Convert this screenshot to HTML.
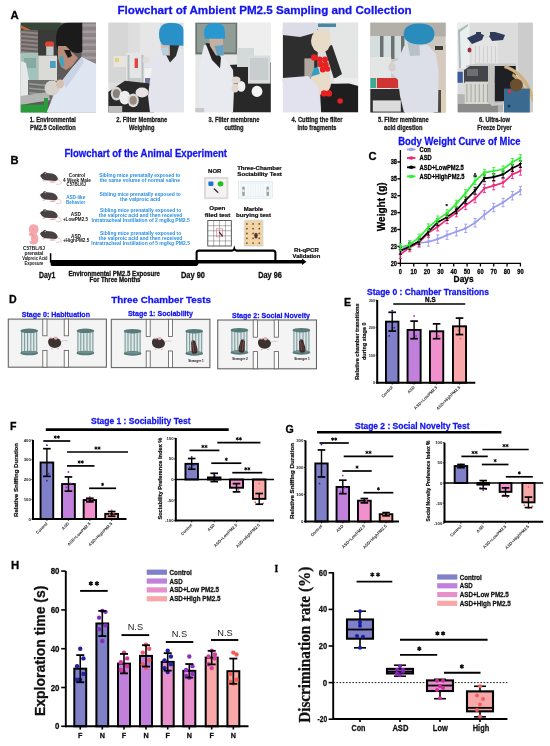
<!DOCTYPE html>
<html><head><meta charset="utf-8"><title>Figure</title>
<style>
html,body{margin:0;padding:0;background:#fff;width:550px;height:746px;overflow:hidden;}
svg{display:block;will-change:transform;}

</style></head><body>
<svg width="550" height="746" viewBox="0 0 550 746">
<rect width="550" height="746" fill="#fff"/>
<text x="10.60" y="18.50" font-size="11.4" fill="#000" font-weight="bold" font-family='"Liberation Sans", sans-serif' stroke="#000" stroke-width="0.280" stroke-linejoin="round" >A</text>
<text x="117.50" y="13.70" font-size="11.63" fill="#1414ee" font-weight="bold" font-family='"Liberation Sans", sans-serif' stroke="#1414ee" stroke-width="0.280" stroke-linejoin="round" >Flowchart of Ambient PM2.5 Sampling and Collection</text>
<defs>
<clipPath id="ph0"><rect x="20.5" y="22.4" width="75.6" height="90.1"/></clipPath>
<clipPath id="ph1"><rect x="108.2" y="22.4" width="75.6" height="90.1"/></clipPath>
<clipPath id="ph2"><rect x="195.2" y="22.4" width="75.6" height="90.1"/></clipPath>
<clipPath id="ph3"><rect x="282.7" y="22.4" width="75.6" height="90.1"/></clipPath>
<clipPath id="ph4"><rect x="370.2" y="22.4" width="75.6" height="90.1"/></clipPath>
<clipPath id="ph5"><rect x="457.3" y="22.4" width="75.6" height="90.1"/></clipPath>
</defs>
<g clip-path="url(#ph0)">
<rect x="20.50" y="22.40" width="75.60" height="90.10" fill="#5c5a58" />
<rect x="20.50" y="22.40" width="40.00" height="9.00" fill="#384638" />
<path d="M20.5 25 L31 30 L31 33 L20.5 28 Z" fill="#b8683c" />
<rect x="20.50" y="30.00" width="24.00" height="24.00" fill="#6a6260" />
<path d="M20.5 31.0 L44 33.0 L44 35.0 L20.5 33.0 Z" fill="#8e8684" />
<path d="M20.5 35.0 L44 37.0 L44 39.0 L20.5 37.0 Z" fill="#8e8684" />
<path d="M20.5 39.0 L44 41.0 L44 43.0 L20.5 41.0 Z" fill="#8e8684" />
<path d="M20.5 43.0 L44 45.0 L44 47.0 L20.5 45.0 Z" fill="#8e8684" />
<path d="M20.5 47.0 L44 49.0 L44 51.0 L20.5 49.0 Z" fill="#8e8684" />
<path d="M20.5 51.0 L44 53.0 L44 55.0 L20.5 53.0 Z" fill="#8e8684" />
<rect x="38.00" y="30.00" width="20.00" height="27.00" fill="#3a3a38" />
<rect x="81.60" y="22.40" width="14.50" height="54.00" fill="#8c8486" />
<rect x="81.60" y="24.00" width="14.50" height="2.60" fill="#a49c9c" />
<rect x="81.60" y="30.50" width="14.50" height="2.60" fill="#a49c9c" />
<rect x="81.60" y="37.00" width="14.50" height="2.60" fill="#a49c9c" />
<rect x="81.60" y="43.50" width="14.50" height="2.60" fill="#a49c9c" />
<rect x="81.60" y="50.00" width="14.50" height="2.60" fill="#a49c9c" />
<rect x="81.60" y="56.50" width="14.50" height="2.60" fill="#a49c9c" />
<rect x="81.60" y="63.00" width="14.50" height="2.60" fill="#a49c9c" />
<rect x="81.60" y="69.50" width="14.50" height="2.60" fill="#a49c9c" />
<rect x="45.20" y="41.60" width="8.80" height="5.60" fill="#dc4430" rx="2"/>
<rect x="46.20" y="46.50" width="7.40" height="9.10" fill="#c2cccc" />
<rect x="20.50" y="52.80" width="17.70" height="31.00" fill="#a2c2ba" />
<rect x="24.00" y="58.00" width="12.00" height="10.00" fill="#86aaa2" />
<rect x="38.20" y="55.60" width="18.80" height="25.20" fill="#dadad6" />
<rect x="50.00" y="61.00" width="5.70" height="7.00" fill="#4aa0c0" />
<path d="M20.5 61 L26 63 L29 80 L28 96 L20.5 96 Z" fill="#e6e8e8" />
<rect x="28.00" y="80.00" width="26.00" height="22.00" fill="#6c6e6c" />
<path d="M29 83.0 L50 85.0 L50 86.5 L29 84.5 Z" fill="#9a9c9a" />
<path d="M29 87.5 L50 89.5 L50 91.0 L29 89.0 Z" fill="#9a9c9a" />
<path d="M29 92.0 L50 94.0 L50 95.5 L29 93.5 Z" fill="#9a9c9a" />
<path d="M29 96.5 L50 98.5 L50 100.0 L29 98.0 Z" fill="#9a9c9a" />
<path d="M20.5 96 L48 92 L50 100 L20.5 105 Z" fill="#b4b4b2" />
<rect x="20.50" y="104.60" width="26.50" height="8.40" fill="#2a9a3a" />
<rect x="44.00" y="98.00" width="4.00" height="15.00" fill="#2a9a3a" />
<path d="M56 40 Q56 22.4 70 22.4 L82.3 22.4 L82.3 52 Q78 54 72 52 Q64 48 60 52 Q56 50 56 40 Z" fill="#1b1b1b" />
<path d="M58 46 L66 46 L72 52 L78 58 L72 66 L66 70 L61 67 L58 58 Z" fill="#b88a78" />
<path d="M64 50 L70 50 L72 56 L68 58 Z" fill="#1b1b1b" />
<path d="M59 57 L63 56 L64.5 66 L61 66.5 Z" fill="#3ea4c4" />
<path d="M81.6 57 L96.1 64 L96.1 112.5 L46.6 112.5 L53.6 94.8 L62 80.8 L71.8 68.2 Z" fill="#dfe6f1" />
<path d="M71.8 68.2 L81.6 57 L84 62 L76 74 L66 88 L62 80.8 Z" fill="#c9d3e4" />
<ellipse cx="52.00" cy="88.00" rx="7.50" ry="7.50" fill="#d8d2cc" />
<ellipse cx="60.00" cy="84.00" rx="4.00" ry="4.50" fill="#d6c0b0" />
</g>
<g clip-path="url(#ph1)">
<rect x="108.20" y="22.40" width="75.60" height="90.10" fill="#dedede" />
<rect x="108.20" y="22.40" width="20.00" height="60.00" fill="#d6d6d6" />
<rect x="140.00" y="22.40" width="20.00" height="40.00" fill="#e6e6e6" />
<rect x="113.60" y="56.00" width="12.40" height="11.00" fill="#e8e6dc" />
<rect x="115.00" y="58.00" width="4.00" height="4.00" fill="#e0d080" />
<rect x="126.00" y="52.80" width="18.40" height="35.00" fill="#e2e6e6" />
<rect x="127.50" y="55.00" width="2.00" height="31.00" fill="#b8bcbc" />
<rect x="141.50" y="55.00" width="2.00" height="31.00" fill="#b8bcbc" />
<rect x="134.60" y="58.40" width="3.40" height="9.60" fill="#e04444" />
<rect x="129.00" y="78.00" width="12.00" height="8.00" fill="#c8c8c8" />
<rect x="144.40" y="68.00" width="13.30" height="14.00" fill="#f2f2f2" />
<rect x="145.00" y="78.00" width="7.80" height="9.80" fill="#7474a2" />
<path d="M108.2 92 L125 80.8 L154 84 L154 112.5 L108.2 112.5 Z" fill="#2a2a2a" />
<ellipse cx="116.40" cy="93.60" rx="5.60" ry="6.80" fill="#d4d4d4" />
<ellipse cx="116.40" cy="93.60" rx="3.60" ry="4.40" fill="#8a8078" />
<ellipse cx="124.80" cy="97.60" rx="5.60" ry="6.80" fill="#eeeeee" />
<ellipse cx="133.20" cy="100.40" rx="5.60" ry="6.80" fill="#dadada" />
<ellipse cx="133.20" cy="100.40" rx="3.60" ry="4.40" fill="#9a8a80" />
<rect x="108.20" y="106.00" width="14.00" height="7.00" fill="#bdbdbd" />
<path d="M161 50 L180 47 L184.3 54 L184.3 112.5 L150 112.5 L148 96 L150 80 L152 68 L144 66 L146 57 L158 55 Z" fill="#e4e4ec" />
<path d="M164 44.4 L179.4 44.4 L176 56 L170 62.6 L166 55 Z" fill="#2e2e2e" />
<ellipse cx="142.00" cy="92.50" rx="6.50" ry="5.00" fill="#e8e2e2" />
<ellipse cx="146.00" cy="60.00" rx="3.50" ry="3.20" fill="#e0dcd8" />
<path d="M160.5 43 L169.6 43 L170 55.6 L163 55.6 Z" fill="#d0b8b0" />
<path d="M161 48 L168 47 L168.5 55 L163 55 Z" fill="#b8d0e0" />
<path d="M159 34 Q159 22.7 171 22.7 Q183 22.7 183.5 30 L183.5 45.8 L163 45 Q159 42 159 34 Z" fill="#2a90c8" />
</g>
<g clip-path="url(#ph2)">
<rect x="195.20" y="22.40" width="75.60" height="90.10" fill="#e6e6e6" />
<rect x="237.00" y="22.40" width="34.00" height="42.00" fill="#eeeeee" />
<rect x="195.20" y="22.40" width="42.00" height="32.00" fill="#6c726c" />
<rect x="197.00" y="23.80" width="38.60" height="28.60" fill="#909c96" />
<rect x="213.00" y="23.80" width="1.20" height="28.60" fill="#7c8680" />
<path d="M228.6 65 L271 62.5 L271 112.5 L232 112.5 Z" fill="#282828" />
<rect x="237.00" y="48.00" width="17.00" height="19.00" fill="#d4dada" />
<rect x="248.00" y="55.60" width="22.60" height="28.00" fill="#d8dcdc" />
<rect x="250.00" y="58.00" width="18.00" height="22.00" fill="#c8cece" />
<ellipse cx="241.20" cy="86.40" rx="4.20" ry="5.40" fill="#f0f0f0" />
<ellipse cx="257.00" cy="91.40" rx="5.40" ry="5.60" fill="#f4f4f4" />
<path d="M204 45 L212 46 L224 56 L233 70 L234 90 L233 112.5 L199 112.5 L198.5 70 Z" fill="#e8eaf0" />
<path d="M205.5 43 L215 44 L221 58 L220 68.2 L212 60 Z" fill="#242424" />
<path d="M209 37.4 L223 37.4 L223.5 55.6 L216 55.6 L210 46 Z" fill="#c8b0a0" />
<path d="M214.5 46 L223.5 45 L223.5 55.6 L217 55 Z" fill="#62a2c8" />
<path d="M204 33 Q204 22.7 214.5 22.7 Q225 22.7 225 32 L225 38.8 L205 38.8 Z" fill="#2a98d0" />
<ellipse cx="236.00" cy="80.00" rx="4.50" ry="3.50" fill="#e2dad2" />
<ellipse cx="235.00" cy="88.00" rx="3.50" ry="4.50" fill="#e0d6cc" />
<rect x="195.20" y="108.00" width="9.00" height="4.50" fill="#c8c8c8" />
</g>
<g clip-path="url(#ph3)">
<rect x="282.70" y="22.40" width="75.60" height="90.10" fill="#dadede" />
<rect x="330.00" y="22.40" width="28.30" height="60.00" fill="#e4e6e6" />
<rect x="318.00" y="23.50" width="18.00" height="3.50" fill="#4a86a4" />
<rect x="282.70" y="29.00" width="35.00" height="53.00" fill="#2e2e2e" />
<path d="M282.7 22.4 L316 22.4 L318 32 L300 37 L282.7 35 Z" fill="#dcdce6" />
<path d="M324 47 L332 45 L342 74 L334 79 Z" fill="#2c2c2c" />
<ellipse cx="321.00" cy="41.00" rx="10.00" ry="11.50" fill="#e8dcc8" />
<rect x="333.80" y="78.00" width="25.00" height="9.80" fill="#ececec" />
<path d="M319.8 84 L349 83.6 L358.3 86 L358.3 112.5 L321 112.5 Z" fill="#1e1e1e" />
<rect x="304.40" y="58.40" width="9.80" height="19.60" fill="#b0a8a0" />
<ellipse cx="320.50" cy="83.00" rx="10.50" ry="11.50" fill="#e8dcc8" />
<path d="M282.7 78 L308 76 L318 86 L321.2 112.5 L282.7 112.5 Z" fill="#e2e2ee" />
<circle cx="314.20" cy="57.50" r="3.20" fill="#e82020" />
<circle cx="319.60" cy="59.50" r="3.00" fill="#e82020" />
<circle cx="325.00" cy="59.40" r="3.00" fill="#e82020" />
<circle cx="320.60" cy="64.60" r="3.00" fill="#e82020" />
<circle cx="325.80" cy="64.80" r="3.00" fill="#e82020" />
<circle cx="322.80" cy="69.60" r="3.00" fill="#e82020" />
<circle cx="327.60" cy="69.00" r="2.80" fill="#e82020" />
<circle cx="324.00" cy="93.40" r="3.10" fill="#e82020" />
<circle cx="328.90" cy="93.40" r="3.20" fill="#e82020" />
<circle cx="340.10" cy="101.00" r="2.80" fill="#e82020" />
<path d="M311 76.6 L314 68 L318 66.8 L319.8 74 Z" fill="#30a0c0" />
</g>
<g clip-path="url(#ph4)">
<rect x="370.20" y="22.40" width="75.60" height="90.10" fill="#ccc6be" />
<rect x="370.20" y="22.40" width="75.60" height="14.00" fill="#b2aea8" />
<rect x="370.20" y="36.00" width="40.40" height="22.40" fill="#d4dede" />
<rect x="380.00" y="36.00" width="3.50" height="23.00" fill="#6a7270" />
<rect x="391.00" y="36.00" width="3.50" height="23.00" fill="#6a7270" />
<rect x="401.00" y="36.00" width="3.50" height="23.00" fill="#6a7270" />
<rect x="370.20" y="57.00" width="21.00" height="35.00" fill="#e4e6e6" />
<rect x="370.20" y="78.00" width="6.00" height="10.00" fill="#40a890" />
<rect x="377.00" y="78.00" width="21.00" height="10.00" fill="#d03434" />
<rect x="436.00" y="44.00" width="10.00" height="69.00" fill="#d6cabe" />
<rect x="435.00" y="46.00" width="8.00" height="4.00" fill="#3a3a3a" />
<rect x="432.00" y="90.00" width="14.00" height="23.00" fill="#e0d0b8" />
<rect x="434.00" y="90.00" width="7.00" height="23.00" fill="#4a4a4a" />
<rect x="370.20" y="89.00" width="35.00" height="24.00" fill="#2c2c2c" />
<rect x="372.80" y="100.40" width="28.00" height="11.20" fill="#dcdcdc" />
<path d="M404 46 L428 45 L436 54 L438.6 70 L438 112.5 L404 112.5 L400 96 L398 80 L391 72.4 L391 62.6 L398 60 Z" fill="#dcdee8" />
<path d="M407 40 L419 40 L420 55.6 L410 56 Z" fill="#b8c0c8" />
<path d="M403.6 35 Q403.6 23.4 419 23.4 Q434.4 23.4 434.4 34 Q434.4 44.4 420 44.4 Q405 44 403.6 35 Z" fill="#2a8cbc" />
<ellipse cx="392.00" cy="67.00" rx="3.50" ry="4.50" fill="#d6d0cc" />
</g>
<g clip-path="url(#ph5)">
<rect x="457.30" y="22.40" width="75.60" height="90.10" fill="#dcdcdc" />
<rect x="518.00" y="22.40" width="15.00" height="90.10" fill="#cccccc" />
<rect x="457.30" y="22.40" width="12.30" height="46.00" fill="#eaeeee" />
<path d="M458 30 L468 24 L468 26 L460 32 L461 68 L459 68 Z" fill="#b0b8b8" />
<rect x="472.00" y="38.00" width="26.00" height="26.00" fill="#e4e4e4" />
<rect x="475.00" y="46.00" width="0.90" height="17.00" fill="#cdcdcd" />
<rect x="479.00" y="46.00" width="0.90" height="17.00" fill="#cdcdcd" />
<rect x="483.00" y="46.00" width="0.90" height="17.00" fill="#cdcdcd" />
<rect x="487.00" y="46.00" width="0.90" height="17.00" fill="#cdcdcd" />
<rect x="491.00" y="46.00" width="0.90" height="17.00" fill="#cdcdcd" />
<rect x="495.00" y="46.00" width="0.90" height="17.00" fill="#cdcdcd" />
<path d="M467 38 L478 33 L484 35 L482 40 L472 44 Z" fill="#2e3a58" />
<path d="M489 36 L495 32 L505 35 L503 40 L492 41 Z" fill="#2e3a58" />
<rect x="476.00" y="32.00" width="5.00" height="5.00" fill="#2e3a58" />
<rect x="490.00" y="32.00" width="5.00" height="5.00" fill="#2e3a58" />
<ellipse cx="469.50" cy="50.00" rx="2.00" ry="2.50" fill="#a03040" />
<rect x="457.30" y="71.80" width="5.50" height="11.00" fill="#3a5a9a" />
<path d="M457.3 94 L503 96 L503 112.5 L457.3 112.5 Z" fill="#b4b4b4" />
<rect x="458.00" y="104.00" width="40.00" height="8.50" fill="#8a8a8a" />
<path d="M466 65.5 L476 63.4 L516 63.4 L516 67.6 L466 67.6 Z" fill="#c8c8c8" />
<path d="M464 70 L470 66 L493 66 L495 83 L464 83 Z" fill="#42464a" />
<rect x="467.00" y="69.00" width="11.00" height="7.00" fill="#6c6e70" />
<rect x="464.70" y="81.60" width="26.00" height="22.40" fill="#d8d8d0" />
<rect x="466.50" y="84.00" width="0.90" height="18.00" fill="#a0a0a0" />
<rect x="470.60" y="84.00" width="0.90" height="18.00" fill="#a0a0a0" />
<rect x="474.70" y="84.00" width="0.90" height="18.00" fill="#a0a0a0" />
<rect x="478.80" y="84.00" width="0.90" height="18.00" fill="#a0a0a0" />
<rect x="482.90" y="84.00" width="0.90" height="18.00" fill="#a0a0a0" />
<rect x="487.00" y="84.00" width="0.90" height="18.00" fill="#a0a0a0" />
<path d="M488 66 L494.8 66 L494.8 104 L488 104 Z" fill="#c4c4c0" />
<rect x="494.80" y="66.00" width="21.00" height="35.20" fill="#1e2024" />
<path d="M490 104 L516 100 L516 103 L492 106 Z" fill="#c8c8c8" />
<path d="M504 68 Q524 74 532 102 L532.9 102 L532.9 94 Q525 71 505 65 Z" fill="#d0b080" />
<path d="M512 76 Q520 82 524 95 L527 94 Q522 80 513 73 Z" fill="#c4a468" />
<rect x="504.00" y="88.60" width="25.80" height="24.40" fill="#3a6a90" />
<circle cx="509.50" cy="91.50" r="1.70" fill="#e03040" />
<ellipse cx="516.40" cy="85.00" rx="6.40" ry="6.30" fill="#6a5030" />
<circle cx="509.00" cy="106.00" r="1.60" fill="#1e3a5a" />
</g>
<text x="52.90" y="122.10" font-size="6.6" fill="#1a1a1a" font-weight="bold" font-family='"Liberation Sans", sans-serif' text-anchor="middle" textLength="46.10" lengthAdjust="spacingAndGlyphs" stroke="#1a1a1a" stroke-width="0.264" stroke-linejoin="round" >1. Environmental</text>
<text x="52.90" y="129.90" font-size="6.6" fill="#1a1a1a" font-weight="bold" font-family='"Liberation Sans", sans-serif' text-anchor="middle" textLength="45.60" lengthAdjust="spacingAndGlyphs" stroke="#1a1a1a" stroke-width="0.264" stroke-linejoin="round" >PM2.5 Collection</text>
<text x="141.80" y="122.10" font-size="6.6" fill="#1a1a1a" font-weight="bold" font-family='"Liberation Sans", sans-serif' text-anchor="middle" textLength="50.90" lengthAdjust="spacingAndGlyphs" stroke="#1a1a1a" stroke-width="0.264" stroke-linejoin="round" >2. Filter Membrane</text>
<text x="141.80" y="129.90" font-size="6.6" fill="#1a1a1a" font-weight="bold" font-family='"Liberation Sans", sans-serif' text-anchor="middle" textLength="25.50" lengthAdjust="spacingAndGlyphs" stroke="#1a1a1a" stroke-width="0.264" stroke-linejoin="round" >Weighing</text>
<text x="234.00" y="122.10" font-size="6.6" fill="#1a1a1a" font-weight="bold" font-family='"Liberation Sans", sans-serif' text-anchor="middle" textLength="50.80" lengthAdjust="spacingAndGlyphs" stroke="#1a1a1a" stroke-width="0.264" stroke-linejoin="round" >3. Filter membrane</text>
<text x="234.00" y="129.90" font-size="6.6" fill="#1a1a1a" font-weight="bold" font-family='"Liberation Sans", sans-serif' text-anchor="middle" textLength="19.20" lengthAdjust="spacingAndGlyphs" stroke="#1a1a1a" stroke-width="0.264" stroke-linejoin="round" >cutting</text>
<text x="317.00" y="122.10" font-size="6.6" fill="#1a1a1a" font-weight="bold" font-family='"Liberation Sans", sans-serif' text-anchor="middle" textLength="50.90" lengthAdjust="spacingAndGlyphs" stroke="#1a1a1a" stroke-width="0.264" stroke-linejoin="round" >4. Cutting the filter</text>
<text x="317.00" y="129.90" font-size="6.6" fill="#1a1a1a" font-weight="bold" font-family='"Liberation Sans", sans-serif' text-anchor="middle" textLength="39.00" lengthAdjust="spacingAndGlyphs" stroke="#1a1a1a" stroke-width="0.264" stroke-linejoin="round" >into fragments</text>
<text x="403.30" y="122.10" font-size="6.6" fill="#1a1a1a" font-weight="bold" font-family='"Liberation Sans", sans-serif' text-anchor="middle" textLength="50.60" lengthAdjust="spacingAndGlyphs" stroke="#1a1a1a" stroke-width="0.264" stroke-linejoin="round" >5. Filter membrane</text>
<text x="403.30" y="129.90" font-size="6.6" fill="#1a1a1a" font-weight="bold" font-family='"Liberation Sans", sans-serif' text-anchor="middle" textLength="38.50" lengthAdjust="spacingAndGlyphs" stroke="#1a1a1a" stroke-width="0.264" stroke-linejoin="round" >acid digestion</text>
<text x="494.50" y="122.10" font-size="6.6" fill="#1a1a1a" font-weight="bold" font-family='"Liberation Sans", sans-serif' text-anchor="middle" textLength="30.90" lengthAdjust="spacingAndGlyphs" stroke="#1a1a1a" stroke-width="0.264" stroke-linejoin="round" >6. Ultra-low</text>
<text x="494.50" y="129.90" font-size="6.6" fill="#1a1a1a" font-weight="bold" font-family='"Liberation Sans", sans-serif' text-anchor="middle" textLength="34.50" lengthAdjust="spacingAndGlyphs" stroke="#1a1a1a" stroke-width="0.264" stroke-linejoin="round" >Freeze Dryer</text>
<text x="10.60" y="164.20" font-size="11.2" fill="#000" font-weight="bold" font-family='"Liberation Sans", sans-serif' stroke="#000" stroke-width="0.280" stroke-linejoin="round" >B</text>
<text x="64.50" y="156.90" font-size="11.3" fill="#1414ee" font-weight="bold" font-family='"Liberation Sans", sans-serif' textLength="162.50" lengthAdjust="spacingAndGlyphs" stroke="#1414ee" stroke-width="0.280" stroke-linejoin="round" >Flowchart of the Animal Experiment</text>
<defs>
<g id="mouse">
<path d="M17.3 3.4 Q21 4.8 21.4 6.8 Q21.2 8.7 16 8.3" fill="none" stroke="#e6b8b8" stroke-width="0.8"/>
<ellipse cx="3.7" cy="4.9" rx="1.4" ry="0.6" fill="#e4aaaa"/>
<ellipse cx="12.6" cy="6.1" rx="3.2" ry="0.7" fill="#e4aaaa"/>
<path d="M0 0 Q0.8 -2.4 3.6 -2.8 Q8 -3.3 12 -2.5 Q16.6 -1.3 17.8 2.5 Q17.9 4.8 15.5 5 L5 4.4 Q1.6 3.6 0.9 1 Z" fill="#484242"/>
<ellipse cx="4.9" cy="-2.7" rx="1.6" ry="1.3" fill="#3e3838"/>
<ellipse cx="5.3" cy="-2.4" rx="0.8" ry="0.7" fill="#d8a0a0"/>
<circle cx="2.2" cy="-0.9" r="0.4" fill="#111"/>
<ellipse cx="0.2" cy="0.2" rx="0.5" ry="0.4" fill="#d09090"/>
</g>
</defs>
<use href="#mouse" transform="translate(40.1 175.9)"/>
<use href="#mouse" transform="translate(39.9 195.2)"/>
<use href="#mouse" transform="translate(39.9 213.3)"/>
<use href="#mouse" transform="translate(39.9 233.9)"/>
<text x="77.00" y="176.90" font-size="4.7" fill="#111" font-weight="bold" font-family='"Liberation Sans", sans-serif' text-anchor="middle" textLength="16.40" lengthAdjust="spacingAndGlyphs" >Control</text>
<text x="77.00" y="181.60" font-size="4.7" fill="#111" font-weight="bold" font-family='"Liberation Sans", sans-serif' text-anchor="middle" textLength="27.80" lengthAdjust="spacingAndGlyphs" >4 Week Male</text>
<text x="76.30" y="185.80" font-size="4.7" fill="#111" font-weight="bold" font-family='"Liberation Sans", sans-serif' text-anchor="middle" textLength="19.40" lengthAdjust="spacingAndGlyphs" >C57BL/6J</text>
<text x="75.70" y="199.00" font-size="4.9" fill="#2a8ee0" font-weight="bold" font-family='"Liberation Sans", sans-serif' text-anchor="middle" textLength="19.10" lengthAdjust="spacingAndGlyphs" >ASD-like</text>
<text x="75.70" y="203.50" font-size="4.9" fill="#2a8ee0" font-weight="bold" font-family='"Liberation Sans", sans-serif' text-anchor="middle" textLength="19.30" lengthAdjust="spacingAndGlyphs" >Behavior</text>
<text x="75.90" y="216.10" font-size="4.8" fill="#111" font-weight="bold" font-family='"Liberation Sans", sans-serif' text-anchor="middle" textLength="10.20" lengthAdjust="spacingAndGlyphs" >ASD</text>
<text x="75.50" y="220.80" font-size="4.8" fill="#111" font-weight="bold" font-family='"Liberation Sans", sans-serif' text-anchor="middle" textLength="25.10" lengthAdjust="spacingAndGlyphs" >+LowPM2.5</text>
<text x="76.00" y="237.70" font-size="4.8" fill="#111" font-weight="bold" font-family='"Liberation Sans", sans-serif' text-anchor="middle" textLength="10.00" lengthAdjust="spacingAndGlyphs" >ASD</text>
<text x="76.10" y="242.10" font-size="4.8" fill="#111" font-weight="bold" font-family='"Liberation Sans", sans-serif' text-anchor="middle" textLength="26.40" lengthAdjust="spacingAndGlyphs" >+HighPM2.5</text>
<path d="M33.5 224.2 Q38.8 224.6 38.6 229.6 Q38.4 232.6 36.4 233.6 Q38.8 236.5 38.4 240.5 Q37.6 244.6 32.6 244.4 Q29.6 244 29.2 241.6 L31.6 241 Q30.2 238.2 31.4 236.6 Q29.2 236.2 28.6 233.8 L30.2 232.6 Q28.2 230.8 28.8 228.2 Q29.8 224.2 33.5 224.2 Z" fill="#f4a7ad" />
<path d="M31 233 Q33 234.5 33.5 237.5 M32 229 L33.5 229.5" fill="none" stroke="#e07f8a" stroke-width="0.5"/>
<text x="33.90" y="250.10" font-size="4.8" fill="#111" font-weight="bold" font-family='"Liberation Sans", sans-serif' text-anchor="middle" textLength="21.80" lengthAdjust="spacingAndGlyphs" >C57BL/6J</text>
<text x="33.90" y="255.20" font-size="4.8" fill="#111" font-weight="bold" font-family='"Liberation Sans", sans-serif' text-anchor="middle" textLength="18.90" lengthAdjust="spacingAndGlyphs" >prenatal</text>
<text x="34.90" y="259.60" font-size="4.8" fill="#111" font-weight="bold" font-family='"Liberation Sans", sans-serif' text-anchor="middle" textLength="25.40" lengthAdjust="spacingAndGlyphs" >Valproic Acid</text>
<text x="33.90" y="264.60" font-size="4.8" fill="#111" font-weight="bold" font-family='"Liberation Sans", sans-serif' text-anchor="middle" textLength="18.90" lengthAdjust="spacingAndGlyphs" >Exposure</text>
<text x="139.80" y="177.10" font-size="5.4" fill="#2a8ee0" font-weight="bold" font-family='"Liberation Sans", sans-serif' text-anchor="middle" textLength="81.20" lengthAdjust="spacingAndGlyphs" >Sibling mice prenatally exposed to</text>
<text x="139.80" y="181.90" font-size="5.4" fill="#2a8ee0" font-weight="bold" font-family='"Liberation Sans", sans-serif' text-anchor="middle" textLength="80.30" lengthAdjust="spacingAndGlyphs" >the same volume of normal saline</text>
<text x="140.20" y="196.00" font-size="5.4" fill="#2a8ee0" font-weight="bold" font-family='"Liberation Sans", sans-serif' text-anchor="middle" textLength="81.20" lengthAdjust="spacingAndGlyphs" >Sibling mice prenatally exposed to</text>
<text x="140.20" y="200.90" font-size="5.4" fill="#2a8ee0" font-weight="bold" font-family='"Liberation Sans", sans-serif' text-anchor="middle" textLength="40.50" lengthAdjust="spacingAndGlyphs" >the valproic acid</text>
<text x="140.60" y="212.10" font-size="5.4" fill="#2a8ee0" font-weight="bold" font-family='"Liberation Sans", sans-serif' text-anchor="middle" textLength="81.20" lengthAdjust="spacingAndGlyphs" >Sibling mice prenatally exposed to</text>
<text x="140.60" y="216.90" font-size="5.4" fill="#2a8ee0" font-weight="bold" font-family='"Liberation Sans", sans-serif' text-anchor="middle" textLength="83.50" lengthAdjust="spacingAndGlyphs" >the valproic acid and then received</text>
<text x="140.60" y="221.60" font-size="5.4" fill="#2a8ee0" font-weight="bold" font-family='"Liberation Sans", sans-serif' text-anchor="middle" textLength="98.20" lengthAdjust="spacingAndGlyphs" >Intratracheal Instillation of 2 mg/kg PM2.5</text>
<text x="140.60" y="235.10" font-size="5.4" fill="#2a8ee0" font-weight="bold" font-family='"Liberation Sans", sans-serif' text-anchor="middle" textLength="81.20" lengthAdjust="spacingAndGlyphs" >Sibling mice prenatally exposed to</text>
<text x="140.60" y="239.90" font-size="5.4" fill="#2a8ee0" font-weight="bold" font-family='"Liberation Sans", sans-serif' text-anchor="middle" textLength="83.50" lengthAdjust="spacingAndGlyphs" >the valproic acid and then received</text>
<text x="140.60" y="244.90" font-size="5.4" fill="#2a8ee0" font-weight="bold" font-family='"Liberation Sans", sans-serif' text-anchor="middle" textLength="98.70" lengthAdjust="spacingAndGlyphs" >Intratracheal Instillation of 5 mg/kg PM2.5</text>
<text x="214.70" y="172.50" font-size="6.0" fill="#111" font-weight="bold" font-family='"Liberation Sans", sans-serif' text-anchor="middle" textLength="13.20" lengthAdjust="spacingAndGlyphs" stroke="#111" stroke-width="0.240" stroke-linejoin="round" >NOR</text>
<text x="259.40" y="170.00" font-size="6.1" fill="#111" font-weight="bold" font-family='"Liberation Sans", sans-serif' text-anchor="middle" textLength="44.50" lengthAdjust="spacingAndGlyphs" stroke="#111" stroke-width="0.244" stroke-linejoin="round" >Three-Chamber</text>
<text x="259.60" y="176.30" font-size="6.1" fill="#111" font-weight="bold" font-family='"Liberation Sans", sans-serif' text-anchor="middle" textLength="44.60" lengthAdjust="spacingAndGlyphs" stroke="#111" stroke-width="0.244" stroke-linejoin="round" >Sociability Test</text>
<rect x="204.00" y="177.00" width="24.40" height="22.20" fill="#dedada" />
<rect x="206.00" y="179.00" width="20.40" height="18.20" fill="#f4f2f2" />
<rect x="208.40" y="181.50" width="5.00" height="4.40" fill="#1a78d0" rx="0.8"/>
<ellipse cx="220.50" cy="183.80" rx="2.90" ry="2.60" fill="#1ec21e" />
<line x1="214.30" y1="189.00" x2="217.80" y2="192.20" stroke="#3a2c2c" stroke-width="1.4" stroke-linecap="round"/>
<line x1="217.60" y1="192.00" x2="219.50" y2="193.40" stroke="#c09090" stroke-width="0.4" />
<rect x="238.60" y="181.60" width="33.60" height="16.60" fill="#f6fafb" stroke="#cfe2ea" stroke-width="0.6"/>
<rect x="241.00" y="183.00" width="29.00" height="13.80" fill="none" stroke="#d9e8ee" stroke-width="0.5"/>
<line x1="248.00" y1="183.50" x2="248.00" y2="196.30" stroke="#dceaf0" stroke-width="0.4" />
<line x1="250.50" y1="183.50" x2="250.50" y2="196.30" stroke="#dceaf0" stroke-width="0.4" />
<line x1="253.00" y1="183.50" x2="253.00" y2="196.30" stroke="#dceaf0" stroke-width="0.4" />
<line x1="255.50" y1="183.50" x2="255.50" y2="196.30" stroke="#dceaf0" stroke-width="0.4" />
<line x1="258.00" y1="183.50" x2="258.00" y2="196.30" stroke="#dceaf0" stroke-width="0.4" />
<line x1="260.50" y1="183.50" x2="260.50" y2="196.30" stroke="#dceaf0" stroke-width="0.4" />
<line x1="263.00" y1="183.50" x2="263.00" y2="196.30" stroke="#dceaf0" stroke-width="0.4" />
<rect x="242.20" y="186.60" width="2.60" height="9.40" fill="#9aa4a4" rx="1"/>
<rect x="266.40" y="186.60" width="2.60" height="9.40" fill="#9aa4a4" rx="1"/>
<rect x="242.40" y="189.50" width="2.20" height="2.50" fill="#e8eaea" />
<rect x="266.60" y="189.50" width="2.20" height="2.50" fill="#e8eaea" />
<text x="217.30" y="210.30" font-size="6.2" fill="#111" font-weight="bold" font-family='"Liberation Sans", sans-serif' text-anchor="middle" textLength="15.90" lengthAdjust="spacingAndGlyphs" stroke="#111" stroke-width="0.248" stroke-linejoin="round" >Open</text>
<text x="217.50" y="216.70" font-size="6.2" fill="#111" font-weight="bold" font-family='"Liberation Sans", sans-serif' text-anchor="middle" textLength="25.40" lengthAdjust="spacingAndGlyphs" stroke="#111" stroke-width="0.248" stroke-linejoin="round" >filed test</text>
<text x="253.40" y="210.60" font-size="6.1" fill="#111" font-weight="bold" font-family='"Liberation Sans", sans-serif' text-anchor="middle" textLength="19.20" lengthAdjust="spacingAndGlyphs" stroke="#111" stroke-width="0.244" stroke-linejoin="round" >Marble</text>
<text x="253.50" y="217.00" font-size="6.1" fill="#111" font-weight="bold" font-family='"Liberation Sans", sans-serif' text-anchor="middle" textLength="35.00" lengthAdjust="spacingAndGlyphs" stroke="#111" stroke-width="0.244" stroke-linejoin="round" >burying test</text>
<rect x="207.80" y="220.60" width="23.50" height="25.40" fill="#fff" stroke="#333" stroke-width="0.8"/>
<line x1="213.68" y1="220.60" x2="213.68" y2="246.00" stroke="#555" stroke-width="0.45" />
<line x1="219.55" y1="220.60" x2="219.55" y2="246.00" stroke="#555" stroke-width="0.45" />
<line x1="225.43" y1="220.60" x2="225.43" y2="246.00" stroke="#555" stroke-width="0.45" />
<line x1="207.80" y1="225.68" x2="231.30" y2="225.68" stroke="#555" stroke-width="0.45" />
<line x1="207.80" y1="230.76" x2="231.30" y2="230.76" stroke="#555" stroke-width="0.45" />
<line x1="207.80" y1="235.84" x2="231.30" y2="235.84" stroke="#555" stroke-width="0.45" />
<line x1="207.80" y1="240.92" x2="231.30" y2="240.92" stroke="#555" stroke-width="0.45" />
<rect x="216.40" y="228.80" width="6.30" height="8.00" fill="none" stroke="#ee6a8a" stroke-width="0.6"/>
<line x1="219.50" y1="232.50" x2="222.30" y2="235.80" stroke="#3a2c2c" stroke-width="1.2" stroke-linecap="round"/>
<rect x="243.60" y="219.60" width="20.00" height="27.20" fill="#cdeef6" />
<rect x="244.60" y="220.60" width="18.00" height="25.20" fill="#f2c690" />
<rect x="245.40" y="221.40" width="16.40" height="23.60" fill="#f3d4a6" />
<circle cx="246.90" cy="223.90" r="0.90" fill="#6e5434" />
<circle cx="253.10" cy="223.90" r="0.90" fill="#6e5434" />
<circle cx="259.30" cy="223.90" r="0.90" fill="#6e5434" />
<circle cx="246.90" cy="228.70" r="0.90" fill="#6e5434" />
<circle cx="253.10" cy="228.70" r="0.90" fill="#6e5434" />
<circle cx="259.30" cy="228.70" r="0.90" fill="#6e5434" />
<circle cx="246.90" cy="233.50" r="0.90" fill="#6e5434" />
<circle cx="253.10" cy="233.50" r="0.90" fill="#6e5434" />
<circle cx="259.30" cy="233.50" r="0.90" fill="#6e5434" />
<circle cx="246.90" cy="238.30" r="0.90" fill="#6e5434" />
<circle cx="253.10" cy="238.30" r="0.90" fill="#6e5434" />
<circle cx="259.30" cy="238.30" r="0.90" fill="#6e5434" />
<circle cx="246.90" cy="243.10" r="0.90" fill="#6e5434" />
<circle cx="253.10" cy="243.10" r="0.90" fill="#6e5434" />
<circle cx="259.30" cy="243.10" r="0.90" fill="#6e5434" />
<ellipse cx="256.00" cy="235.60" rx="1.80" ry="2.80" fill="#4a3a36" />
<line x1="50.60" y1="253.20" x2="50.60" y2="262.50" stroke="#000" stroke-width="1.5" />
<path d="M50.6 260.0 L302 260.0 L302 258.6 L306.4 261.8 L302 265.0 L302 263.4 L198.5 263.4 Q198 266.0 195 266.0 L52 266.0 Q50.6 266.0 50.6 264.6 Z" fill="#000" />
<path d="M196.6 260.2 L196.6 252.6 Q196.8 250.6 198.8 250.6 L232.2 250.6 Q233.8 250.4 234.3 248.8 Q234.8 250.4 236.4 250.6 L273.2 250.6 Q275.2 250.6 275.4 252.6 L275.4 260.5" fill="none" stroke="#000" stroke-width="2.1"/>
<text x="306.40" y="251.70" font-size="6.2" fill="#111" font-weight="bold" font-family='"Liberation Sans", sans-serif' text-anchor="middle" textLength="24.70" lengthAdjust="spacingAndGlyphs" stroke="#111" stroke-width="0.248" stroke-linejoin="round" >Rt-qPCR</text>
<text x="306.40" y="257.60" font-size="6.2" fill="#111" font-weight="bold" font-family='"Liberation Sans", sans-serif' text-anchor="middle" textLength="27.70" lengthAdjust="spacingAndGlyphs" stroke="#111" stroke-width="0.248" stroke-linejoin="round" >Validation</text>
<text x="47.20" y="278.30" font-size="8.4" fill="#111" font-weight="bold" font-family='"Liberation Sans", sans-serif' text-anchor="middle" textLength="16.50" lengthAdjust="spacingAndGlyphs" stroke="#111" stroke-width="0.280" stroke-linejoin="round" >Day1</text>
<text x="193.00" y="278.20" font-size="8.4" fill="#111" font-weight="bold" font-family='"Liberation Sans", sans-serif' text-anchor="middle" textLength="24.00" lengthAdjust="spacingAndGlyphs" stroke="#111" stroke-width="0.280" stroke-linejoin="round" >Day 90</text>
<text x="270.00" y="278.20" font-size="8.4" fill="#111" font-weight="bold" font-family='"Liberation Sans", sans-serif' text-anchor="middle" textLength="23.60" lengthAdjust="spacingAndGlyphs" stroke="#111" stroke-width="0.280" stroke-linejoin="round" >Day 96</text>
<text x="114.20" y="275.60" font-size="6.3" fill="#111" font-weight="bold" font-family='"Liberation Sans", sans-serif' text-anchor="middle" textLength="91.60" lengthAdjust="spacingAndGlyphs" stroke="#111" stroke-width="0.252" stroke-linejoin="round" >Environmental PM2.5 Exposure</text>
<text x="115.00" y="281.70" font-size="6.3" fill="#111" font-weight="bold" font-family='"Liberation Sans", sans-serif' text-anchor="middle" textLength="50.90" lengthAdjust="spacingAndGlyphs" stroke="#111" stroke-width="0.252" stroke-linejoin="round" >For Three Months</text>
<text x="368.60" y="159.80" font-size="11.2" fill="#000" font-weight="bold" font-family='"Liberation Sans", sans-serif' stroke="#000" stroke-width="0.280" stroke-linejoin="round" >C</text>
<text x="398.20" y="145.00" font-size="10.4" fill="#1414ee" font-weight="bold" font-family='"Liberation Sans", sans-serif' textLength="122.40" lengthAdjust="spacingAndGlyphs" stroke="#1414ee" stroke-width="0.280" stroke-linejoin="round" >Body Weight Curve of Mice</text>
<line x1="400.40" y1="150.00" x2="400.40" y2="263.90" stroke="#000" stroke-width="1.3" />
<line x1="399.80" y1="263.30" x2="521.00" y2="263.30" stroke="#000" stroke-width="1.3" />
<line x1="397.40" y1="263.30" x2="400.40" y2="263.30" stroke="#000" stroke-width="1.4" />
<text x="397.00" y="265.50" font-size="6.3" fill="#000" font-weight="bold" font-family='"Liberation Sans", sans-serif' text-anchor="end" textLength="6.30" lengthAdjust="spacingAndGlyphs" stroke="#000" stroke-width="0.252" stroke-linejoin="round" >20</text>
<line x1="397.40" y1="246.41" x2="400.40" y2="246.41" stroke="#000" stroke-width="1.4" />
<text x="397.00" y="248.61" font-size="6.3" fill="#000" font-weight="bold" font-family='"Liberation Sans", sans-serif' text-anchor="end" textLength="6.30" lengthAdjust="spacingAndGlyphs" stroke="#000" stroke-width="0.252" stroke-linejoin="round" >23</text>
<line x1="397.40" y1="229.52" x2="400.40" y2="229.52" stroke="#000" stroke-width="1.4" />
<text x="397.00" y="231.72" font-size="6.3" fill="#000" font-weight="bold" font-family='"Liberation Sans", sans-serif' text-anchor="end" textLength="6.30" lengthAdjust="spacingAndGlyphs" stroke="#000" stroke-width="0.252" stroke-linejoin="round" >26</text>
<line x1="397.40" y1="212.63" x2="400.40" y2="212.63" stroke="#000" stroke-width="1.4" />
<text x="397.00" y="214.83" font-size="6.3" fill="#000" font-weight="bold" font-family='"Liberation Sans", sans-serif' text-anchor="end" textLength="6.30" lengthAdjust="spacingAndGlyphs" stroke="#000" stroke-width="0.252" stroke-linejoin="round" >29</text>
<line x1="397.40" y1="195.74" x2="400.40" y2="195.74" stroke="#000" stroke-width="1.4" />
<text x="397.00" y="197.94" font-size="6.3" fill="#000" font-weight="bold" font-family='"Liberation Sans", sans-serif' text-anchor="end" textLength="6.30" lengthAdjust="spacingAndGlyphs" stroke="#000" stroke-width="0.252" stroke-linejoin="round" >32</text>
<line x1="397.40" y1="178.85" x2="400.40" y2="178.85" stroke="#000" stroke-width="1.4" />
<text x="397.00" y="181.05" font-size="6.3" fill="#000" font-weight="bold" font-family='"Liberation Sans", sans-serif' text-anchor="end" textLength="6.30" lengthAdjust="spacingAndGlyphs" stroke="#000" stroke-width="0.252" stroke-linejoin="round" >35</text>
<line x1="397.40" y1="161.96" x2="400.40" y2="161.96" stroke="#000" stroke-width="1.4" />
<text x="397.00" y="164.16" font-size="6.3" fill="#000" font-weight="bold" font-family='"Liberation Sans", sans-serif' text-anchor="end" textLength="6.30" lengthAdjust="spacingAndGlyphs" stroke="#000" stroke-width="0.252" stroke-linejoin="round" >38</text>
<line x1="400.40" y1="263.30" x2="400.40" y2="266.50" stroke="#000" stroke-width="1.3" />
<text x="400.40" y="273.60" font-size="7.4" fill="#000" font-weight="bold" font-family='"Liberation Sans", sans-serif' text-anchor="middle" textLength="3.10" lengthAdjust="spacingAndGlyphs" stroke="#000" stroke-width="0.280" stroke-linejoin="round" >0</text>
<line x1="413.73" y1="263.30" x2="413.73" y2="266.50" stroke="#000" stroke-width="1.3" />
<text x="413.73" y="273.60" font-size="7.4" fill="#000" font-weight="bold" font-family='"Liberation Sans", sans-serif' text-anchor="middle" textLength="6.40" lengthAdjust="spacingAndGlyphs" stroke="#000" stroke-width="0.280" stroke-linejoin="round" >10</text>
<line x1="427.07" y1="263.30" x2="427.07" y2="266.50" stroke="#000" stroke-width="1.3" />
<text x="427.07" y="273.60" font-size="7.4" fill="#000" font-weight="bold" font-family='"Liberation Sans", sans-serif' text-anchor="middle" textLength="6.40" lengthAdjust="spacingAndGlyphs" stroke="#000" stroke-width="0.280" stroke-linejoin="round" >20</text>
<line x1="440.40" y1="263.30" x2="440.40" y2="266.50" stroke="#000" stroke-width="1.3" />
<text x="440.40" y="273.60" font-size="7.4" fill="#000" font-weight="bold" font-family='"Liberation Sans", sans-serif' text-anchor="middle" textLength="6.40" lengthAdjust="spacingAndGlyphs" stroke="#000" stroke-width="0.280" stroke-linejoin="round" >30</text>
<line x1="453.73" y1="263.30" x2="453.73" y2="266.50" stroke="#000" stroke-width="1.3" />
<text x="453.73" y="273.60" font-size="7.4" fill="#000" font-weight="bold" font-family='"Liberation Sans", sans-serif' text-anchor="middle" textLength="6.40" lengthAdjust="spacingAndGlyphs" stroke="#000" stroke-width="0.280" stroke-linejoin="round" >40</text>
<line x1="467.06" y1="263.30" x2="467.06" y2="266.50" stroke="#000" stroke-width="1.3" />
<text x="467.06" y="273.60" font-size="7.4" fill="#000" font-weight="bold" font-family='"Liberation Sans", sans-serif' text-anchor="middle" textLength="6.40" lengthAdjust="spacingAndGlyphs" stroke="#000" stroke-width="0.280" stroke-linejoin="round" >50</text>
<line x1="480.40" y1="263.30" x2="480.40" y2="266.50" stroke="#000" stroke-width="1.3" />
<text x="480.40" y="273.60" font-size="7.4" fill="#000" font-weight="bold" font-family='"Liberation Sans", sans-serif' text-anchor="middle" textLength="6.40" lengthAdjust="spacingAndGlyphs" stroke="#000" stroke-width="0.280" stroke-linejoin="round" >60</text>
<line x1="493.73" y1="263.30" x2="493.73" y2="266.50" stroke="#000" stroke-width="1.3" />
<text x="493.73" y="273.60" font-size="7.4" fill="#000" font-weight="bold" font-family='"Liberation Sans", sans-serif' text-anchor="middle" textLength="6.40" lengthAdjust="spacingAndGlyphs" stroke="#000" stroke-width="0.280" stroke-linejoin="round" >70</text>
<line x1="507.06" y1="263.30" x2="507.06" y2="266.50" stroke="#000" stroke-width="1.3" />
<text x="507.06" y="273.60" font-size="7.4" fill="#000" font-weight="bold" font-family='"Liberation Sans", sans-serif' text-anchor="middle" textLength="6.40" lengthAdjust="spacingAndGlyphs" stroke="#000" stroke-width="0.280" stroke-linejoin="round" >80</text>
<line x1="520.40" y1="263.30" x2="520.40" y2="266.50" stroke="#000" stroke-width="1.3" />
<text x="520.40" y="273.60" font-size="7.4" fill="#000" font-weight="bold" font-family='"Liberation Sans", sans-serif' text-anchor="middle" textLength="6.40" lengthAdjust="spacingAndGlyphs" stroke="#000" stroke-width="0.280" stroke-linejoin="round" >90</text>
<text x="463.60" y="282.00" font-size="9.5" fill="#000" font-weight="bold" font-family='"Liberation Sans", sans-serif' text-anchor="middle" textLength="20.00" lengthAdjust="spacingAndGlyphs" stroke="#000" stroke-width="0.280" stroke-linejoin="round" >Days</text>
<text x="385.20" y="206.80" font-size="10.4" fill="#000" font-weight="bold" font-family='"Liberation Sans", sans-serif' text-anchor="middle" textLength="48.80" lengthAdjust="spacingAndGlyphs" transform="rotate(-90 385.20 206.80)" stroke="#000" stroke-width="0.280" stroke-linejoin="round" >Weight (g)</text>
<polyline points="400.40,249.79 409.73,244.72 419.07,243.03 428.40,241.91 437.73,239.09 447.07,235.15 456.40,231.77 465.73,228.39 475.06,222.76 484.40,214.88 493.73,207.56 503.06,202.50 512.40,195.74 520.40,190.67" fill="none" stroke="#9b9bf0" stroke-width="1.7"/>
<line x1="400.40" y1="245.57" x2="400.40" y2="254.01" stroke="#9b9bf0" stroke-width="0.9" />
<line x1="398.80" y1="245.57" x2="402.00" y2="245.57" stroke="#9b9bf0" stroke-width="0.9" />
<line x1="398.80" y1="254.01" x2="402.00" y2="254.01" stroke="#9b9bf0" stroke-width="0.9" />
<path d="M398.70 248.49 L402.10 248.49 L400.40 251.39 Z" fill="#9b9bf0" />
<line x1="409.73" y1="240.50" x2="409.73" y2="248.94" stroke="#9b9bf0" stroke-width="0.9" />
<line x1="408.13" y1="240.50" x2="411.33" y2="240.50" stroke="#9b9bf0" stroke-width="0.9" />
<line x1="408.13" y1="248.94" x2="411.33" y2="248.94" stroke="#9b9bf0" stroke-width="0.9" />
<path d="M408.03 243.42 L411.43 243.42 L409.73 246.32 Z" fill="#9b9bf0" />
<line x1="419.07" y1="238.81" x2="419.07" y2="247.25" stroke="#9b9bf0" stroke-width="0.9" />
<line x1="417.47" y1="238.81" x2="420.67" y2="238.81" stroke="#9b9bf0" stroke-width="0.9" />
<line x1="417.47" y1="247.25" x2="420.67" y2="247.25" stroke="#9b9bf0" stroke-width="0.9" />
<path d="M417.37 241.73 L420.77 241.73 L419.07 244.63 Z" fill="#9b9bf0" />
<line x1="428.40" y1="237.68" x2="428.40" y2="246.13" stroke="#9b9bf0" stroke-width="0.9" />
<line x1="426.80" y1="237.68" x2="430.00" y2="237.68" stroke="#9b9bf0" stroke-width="0.9" />
<line x1="426.80" y1="246.13" x2="430.00" y2="246.13" stroke="#9b9bf0" stroke-width="0.9" />
<path d="M426.70 240.61 L430.10 240.61 L428.40 243.51 Z" fill="#9b9bf0" />
<line x1="437.73" y1="234.87" x2="437.73" y2="243.31" stroke="#9b9bf0" stroke-width="0.9" />
<line x1="436.13" y1="234.87" x2="439.33" y2="234.87" stroke="#9b9bf0" stroke-width="0.9" />
<line x1="436.13" y1="243.31" x2="439.33" y2="243.31" stroke="#9b9bf0" stroke-width="0.9" />
<path d="M436.03 237.79 L439.43 237.79 L437.73 240.69 Z" fill="#9b9bf0" />
<line x1="447.07" y1="230.93" x2="447.07" y2="239.37" stroke="#9b9bf0" stroke-width="0.9" />
<line x1="445.47" y1="230.93" x2="448.67" y2="230.93" stroke="#9b9bf0" stroke-width="0.9" />
<line x1="445.47" y1="239.37" x2="448.67" y2="239.37" stroke="#9b9bf0" stroke-width="0.9" />
<path d="M445.37 233.85 L448.77 233.85 L447.07 236.75 Z" fill="#9b9bf0" />
<line x1="456.40" y1="227.55" x2="456.40" y2="235.99" stroke="#9b9bf0" stroke-width="0.9" />
<line x1="454.80" y1="227.55" x2="458.00" y2="227.55" stroke="#9b9bf0" stroke-width="0.9" />
<line x1="454.80" y1="235.99" x2="458.00" y2="235.99" stroke="#9b9bf0" stroke-width="0.9" />
<path d="M454.70 230.47 L458.10 230.47 L456.40 233.37 Z" fill="#9b9bf0" />
<line x1="465.73" y1="224.17" x2="465.73" y2="232.62" stroke="#9b9bf0" stroke-width="0.9" />
<line x1="464.13" y1="224.17" x2="467.33" y2="224.17" stroke="#9b9bf0" stroke-width="0.9" />
<line x1="464.13" y1="232.62" x2="467.33" y2="232.62" stroke="#9b9bf0" stroke-width="0.9" />
<path d="M464.03 227.09 L467.43 227.09 L465.73 229.99 Z" fill="#9b9bf0" />
<line x1="475.06" y1="218.54" x2="475.06" y2="226.99" stroke="#9b9bf0" stroke-width="0.9" />
<line x1="473.46" y1="218.54" x2="476.66" y2="218.54" stroke="#9b9bf0" stroke-width="0.9" />
<line x1="473.46" y1="226.99" x2="476.66" y2="226.99" stroke="#9b9bf0" stroke-width="0.9" />
<path d="M473.36 221.46 L476.76 221.46 L475.06 224.36 Z" fill="#9b9bf0" />
<line x1="484.40" y1="210.66" x2="484.40" y2="219.10" stroke="#9b9bf0" stroke-width="0.9" />
<line x1="482.80" y1="210.66" x2="486.00" y2="210.66" stroke="#9b9bf0" stroke-width="0.9" />
<line x1="482.80" y1="219.10" x2="486.00" y2="219.10" stroke="#9b9bf0" stroke-width="0.9" />
<path d="M482.70 213.58 L486.10 213.58 L484.40 216.48 Z" fill="#9b9bf0" />
<line x1="493.73" y1="203.34" x2="493.73" y2="211.79" stroke="#9b9bf0" stroke-width="0.9" />
<line x1="492.13" y1="203.34" x2="495.33" y2="203.34" stroke="#9b9bf0" stroke-width="0.9" />
<line x1="492.13" y1="211.79" x2="495.33" y2="211.79" stroke="#9b9bf0" stroke-width="0.9" />
<path d="M492.03 206.26 L495.43 206.26 L493.73 209.16 Z" fill="#9b9bf0" />
<line x1="503.06" y1="198.27" x2="503.06" y2="206.72" stroke="#9b9bf0" stroke-width="0.9" />
<line x1="501.46" y1="198.27" x2="504.66" y2="198.27" stroke="#9b9bf0" stroke-width="0.9" />
<line x1="501.46" y1="206.72" x2="504.66" y2="206.72" stroke="#9b9bf0" stroke-width="0.9" />
<path d="M501.36 201.20 L504.76 201.20 L503.06 204.10 Z" fill="#9b9bf0" />
<line x1="512.40" y1="191.52" x2="512.40" y2="199.96" stroke="#9b9bf0" stroke-width="0.9" />
<line x1="510.80" y1="191.52" x2="514.00" y2="191.52" stroke="#9b9bf0" stroke-width="0.9" />
<line x1="510.80" y1="199.96" x2="514.00" y2="199.96" stroke="#9b9bf0" stroke-width="0.9" />
<path d="M510.70 194.44 L514.10 194.44 L512.40 197.34 Z" fill="#9b9bf0" />
<line x1="520.40" y1="186.45" x2="520.40" y2="194.90" stroke="#9b9bf0" stroke-width="0.9" />
<line x1="518.80" y1="186.45" x2="522.00" y2="186.45" stroke="#9b9bf0" stroke-width="0.9" />
<line x1="518.80" y1="194.90" x2="522.00" y2="194.90" stroke="#9b9bf0" stroke-width="0.9" />
<path d="M518.70 189.37 L522.10 189.37 L520.40 192.27 Z" fill="#9b9bf0" />
<polyline points="400.40,254.29 409.73,247.54 419.07,242.47 428.40,232.90 437.73,226.71 447.07,219.39 456.40,212.63 465.73,205.31 475.06,198.56 484.40,188.42 493.73,185.61 503.06,182.79 512.40,174.35 520.40,170.97" fill="none" stroke="#ee2a7b" stroke-width="1.7"/>
<line x1="400.40" y1="250.07" x2="400.40" y2="258.51" stroke="#ee2a7b" stroke-width="0.9" />
<line x1="398.80" y1="250.07" x2="402.00" y2="250.07" stroke="#ee2a7b" stroke-width="0.9" />
<line x1="398.80" y1="258.51" x2="402.00" y2="258.51" stroke="#ee2a7b" stroke-width="0.9" />
<path d="M398.70 252.99 L402.10 252.99 L400.40 255.89 Z" fill="#ee2a7b" />
<line x1="409.73" y1="243.31" x2="409.73" y2="251.76" stroke="#ee2a7b" stroke-width="0.9" />
<line x1="408.13" y1="243.31" x2="411.33" y2="243.31" stroke="#ee2a7b" stroke-width="0.9" />
<line x1="408.13" y1="251.76" x2="411.33" y2="251.76" stroke="#ee2a7b" stroke-width="0.9" />
<path d="M408.03 246.24 L411.43 246.24 L409.73 249.14 Z" fill="#ee2a7b" />
<line x1="419.07" y1="238.25" x2="419.07" y2="246.69" stroke="#ee2a7b" stroke-width="0.9" />
<line x1="417.47" y1="238.25" x2="420.67" y2="238.25" stroke="#ee2a7b" stroke-width="0.9" />
<line x1="417.47" y1="246.69" x2="420.67" y2="246.69" stroke="#ee2a7b" stroke-width="0.9" />
<path d="M417.37 241.17 L420.77 241.17 L419.07 244.07 Z" fill="#ee2a7b" />
<line x1="428.40" y1="228.68" x2="428.40" y2="237.12" stroke="#ee2a7b" stroke-width="0.9" />
<line x1="426.80" y1="228.68" x2="430.00" y2="228.68" stroke="#ee2a7b" stroke-width="0.9" />
<line x1="426.80" y1="237.12" x2="430.00" y2="237.12" stroke="#ee2a7b" stroke-width="0.9" />
<path d="M426.70 231.60 L430.10 231.60 L428.40 234.50 Z" fill="#ee2a7b" />
<line x1="437.73" y1="222.48" x2="437.73" y2="230.93" stroke="#ee2a7b" stroke-width="0.9" />
<line x1="436.13" y1="222.48" x2="439.33" y2="222.48" stroke="#ee2a7b" stroke-width="0.9" />
<line x1="436.13" y1="230.93" x2="439.33" y2="230.93" stroke="#ee2a7b" stroke-width="0.9" />
<path d="M436.03 225.41 L439.43 225.41 L437.73 228.31 Z" fill="#ee2a7b" />
<line x1="447.07" y1="215.16" x2="447.07" y2="223.61" stroke="#ee2a7b" stroke-width="0.9" />
<line x1="445.47" y1="215.16" x2="448.67" y2="215.16" stroke="#ee2a7b" stroke-width="0.9" />
<line x1="445.47" y1="223.61" x2="448.67" y2="223.61" stroke="#ee2a7b" stroke-width="0.9" />
<path d="M445.37 218.09 L448.77 218.09 L447.07 220.99 Z" fill="#ee2a7b" />
<line x1="456.40" y1="208.41" x2="456.40" y2="216.85" stroke="#ee2a7b" stroke-width="0.9" />
<line x1="454.80" y1="208.41" x2="458.00" y2="208.41" stroke="#ee2a7b" stroke-width="0.9" />
<line x1="454.80" y1="216.85" x2="458.00" y2="216.85" stroke="#ee2a7b" stroke-width="0.9" />
<path d="M454.70 211.33 L458.10 211.33 L456.40 214.23 Z" fill="#ee2a7b" />
<line x1="465.73" y1="201.09" x2="465.73" y2="209.53" stroke="#ee2a7b" stroke-width="0.9" />
<line x1="464.13" y1="201.09" x2="467.33" y2="201.09" stroke="#ee2a7b" stroke-width="0.9" />
<line x1="464.13" y1="209.53" x2="467.33" y2="209.53" stroke="#ee2a7b" stroke-width="0.9" />
<path d="M464.03 204.01 L467.43 204.01 L465.73 206.91 Z" fill="#ee2a7b" />
<line x1="475.06" y1="194.33" x2="475.06" y2="202.78" stroke="#ee2a7b" stroke-width="0.9" />
<line x1="473.46" y1="194.33" x2="476.66" y2="194.33" stroke="#ee2a7b" stroke-width="0.9" />
<line x1="473.46" y1="202.78" x2="476.66" y2="202.78" stroke="#ee2a7b" stroke-width="0.9" />
<path d="M473.36 197.25 L476.76 197.25 L475.06 200.16 Z" fill="#ee2a7b" />
<line x1="484.40" y1="184.20" x2="484.40" y2="192.64" stroke="#ee2a7b" stroke-width="0.9" />
<line x1="482.80" y1="184.20" x2="486.00" y2="184.20" stroke="#ee2a7b" stroke-width="0.9" />
<line x1="482.80" y1="192.64" x2="486.00" y2="192.64" stroke="#ee2a7b" stroke-width="0.9" />
<path d="M482.70 187.12 L486.10 187.12 L484.40 190.02 Z" fill="#ee2a7b" />
<line x1="493.73" y1="181.38" x2="493.73" y2="189.83" stroke="#ee2a7b" stroke-width="0.9" />
<line x1="492.13" y1="181.38" x2="495.33" y2="181.38" stroke="#ee2a7b" stroke-width="0.9" />
<line x1="492.13" y1="189.83" x2="495.33" y2="189.83" stroke="#ee2a7b" stroke-width="0.9" />
<path d="M492.03 184.31 L495.43 184.31 L493.73 187.21 Z" fill="#ee2a7b" />
<line x1="503.06" y1="178.57" x2="503.06" y2="187.01" stroke="#ee2a7b" stroke-width="0.9" />
<line x1="501.46" y1="178.57" x2="504.66" y2="178.57" stroke="#ee2a7b" stroke-width="0.9" />
<line x1="501.46" y1="187.01" x2="504.66" y2="187.01" stroke="#ee2a7b" stroke-width="0.9" />
<path d="M501.36 181.49 L504.76 181.49 L503.06 184.39 Z" fill="#ee2a7b" />
<line x1="512.40" y1="170.12" x2="512.40" y2="178.57" stroke="#ee2a7b" stroke-width="0.9" />
<line x1="510.80" y1="170.12" x2="514.00" y2="170.12" stroke="#ee2a7b" stroke-width="0.9" />
<line x1="510.80" y1="178.57" x2="514.00" y2="178.57" stroke="#ee2a7b" stroke-width="0.9" />
<path d="M510.70 173.05 L514.10 173.05 L512.40 175.95 Z" fill="#ee2a7b" />
<line x1="520.40" y1="166.75" x2="520.40" y2="175.19" stroke="#ee2a7b" stroke-width="0.9" />
<line x1="518.80" y1="166.75" x2="522.00" y2="166.75" stroke="#ee2a7b" stroke-width="0.9" />
<line x1="518.80" y1="175.19" x2="522.00" y2="175.19" stroke="#ee2a7b" stroke-width="0.9" />
<path d="M518.70 169.67 L522.10 169.67 L520.40 172.57 Z" fill="#ee2a7b" />
<polyline points="400.40,250.91 409.73,246.41 419.07,241.34 428.40,231.77 437.73,222.20 447.07,217.13 456.40,210.38 465.73,200.24 475.06,190.67 484.40,178.29 493.73,177.16 503.06,174.35 512.40,168.15 520.40,164.21" fill="none" stroke="#000000" stroke-width="1.7"/>
<line x1="400.40" y1="247.54" x2="400.40" y2="254.29" stroke="#000000" stroke-width="0.9" />
<line x1="398.80" y1="247.54" x2="402.00" y2="247.54" stroke="#000000" stroke-width="0.9" />
<line x1="398.80" y1="254.29" x2="402.00" y2="254.29" stroke="#000000" stroke-width="0.9" />
<path d="M398.70 249.61 L402.10 249.61 L400.40 252.51 Z" fill="#000000" />
<line x1="409.73" y1="243.03" x2="409.73" y2="249.79" stroke="#000000" stroke-width="0.9" />
<line x1="408.13" y1="243.03" x2="411.33" y2="243.03" stroke="#000000" stroke-width="0.9" />
<line x1="408.13" y1="249.79" x2="411.33" y2="249.79" stroke="#000000" stroke-width="0.9" />
<path d="M408.03 245.11 L411.43 245.11 L409.73 248.01 Z" fill="#000000" />
<line x1="419.07" y1="237.97" x2="419.07" y2="244.72" stroke="#000000" stroke-width="0.9" />
<line x1="417.47" y1="237.97" x2="420.67" y2="237.97" stroke="#000000" stroke-width="0.9" />
<line x1="417.47" y1="244.72" x2="420.67" y2="244.72" stroke="#000000" stroke-width="0.9" />
<path d="M417.37 240.04 L420.77 240.04 L419.07 242.94 Z" fill="#000000" />
<line x1="428.40" y1="228.39" x2="428.40" y2="235.15" stroke="#000000" stroke-width="0.9" />
<line x1="426.80" y1="228.39" x2="430.00" y2="228.39" stroke="#000000" stroke-width="0.9" />
<line x1="426.80" y1="235.15" x2="430.00" y2="235.15" stroke="#000000" stroke-width="0.9" />
<path d="M426.70 230.47 L430.10 230.47 L428.40 233.37 Z" fill="#000000" />
<line x1="437.73" y1="218.82" x2="437.73" y2="225.58" stroke="#000000" stroke-width="0.9" />
<line x1="436.13" y1="218.82" x2="439.33" y2="218.82" stroke="#000000" stroke-width="0.9" />
<line x1="436.13" y1="225.58" x2="439.33" y2="225.58" stroke="#000000" stroke-width="0.9" />
<path d="M436.03 220.90 L439.43 220.90 L437.73 223.80 Z" fill="#000000" />
<line x1="447.07" y1="213.76" x2="447.07" y2="220.51" stroke="#000000" stroke-width="0.9" />
<line x1="445.47" y1="213.76" x2="448.67" y2="213.76" stroke="#000000" stroke-width="0.9" />
<line x1="445.47" y1="220.51" x2="448.67" y2="220.51" stroke="#000000" stroke-width="0.9" />
<path d="M445.37 215.83 L448.77 215.83 L447.07 218.73 Z" fill="#000000" />
<line x1="456.40" y1="207.00" x2="456.40" y2="213.76" stroke="#000000" stroke-width="0.9" />
<line x1="454.80" y1="207.00" x2="458.00" y2="207.00" stroke="#000000" stroke-width="0.9" />
<line x1="454.80" y1="213.76" x2="458.00" y2="213.76" stroke="#000000" stroke-width="0.9" />
<path d="M454.70 209.08 L458.10 209.08 L456.40 211.98 Z" fill="#000000" />
<line x1="465.73" y1="196.87" x2="465.73" y2="203.62" stroke="#000000" stroke-width="0.9" />
<line x1="464.13" y1="196.87" x2="467.33" y2="196.87" stroke="#000000" stroke-width="0.9" />
<line x1="464.13" y1="203.62" x2="467.33" y2="203.62" stroke="#000000" stroke-width="0.9" />
<path d="M464.03 198.94 L467.43 198.94 L465.73 201.84 Z" fill="#000000" />
<line x1="475.06" y1="187.30" x2="475.06" y2="194.05" stroke="#000000" stroke-width="0.9" />
<line x1="473.46" y1="187.30" x2="476.66" y2="187.30" stroke="#000000" stroke-width="0.9" />
<line x1="473.46" y1="194.05" x2="476.66" y2="194.05" stroke="#000000" stroke-width="0.9" />
<path d="M473.36 189.37 L476.76 189.37 L475.06 192.27 Z" fill="#000000" />
<line x1="484.40" y1="174.91" x2="484.40" y2="181.66" stroke="#000000" stroke-width="0.9" />
<line x1="482.80" y1="174.91" x2="486.00" y2="174.91" stroke="#000000" stroke-width="0.9" />
<line x1="482.80" y1="181.66" x2="486.00" y2="181.66" stroke="#000000" stroke-width="0.9" />
<path d="M482.70 176.99 L486.10 176.99 L484.40 179.89 Z" fill="#000000" />
<line x1="493.73" y1="173.78" x2="493.73" y2="180.54" stroke="#000000" stroke-width="0.9" />
<line x1="492.13" y1="173.78" x2="495.33" y2="173.78" stroke="#000000" stroke-width="0.9" />
<line x1="492.13" y1="180.54" x2="495.33" y2="180.54" stroke="#000000" stroke-width="0.9" />
<path d="M492.03 175.86 L495.43 175.86 L493.73 178.76 Z" fill="#000000" />
<line x1="503.06" y1="170.97" x2="503.06" y2="177.72" stroke="#000000" stroke-width="0.9" />
<line x1="501.46" y1="170.97" x2="504.66" y2="170.97" stroke="#000000" stroke-width="0.9" />
<line x1="501.46" y1="177.72" x2="504.66" y2="177.72" stroke="#000000" stroke-width="0.9" />
<path d="M501.36 173.05 L504.76 173.05 L503.06 175.95 Z" fill="#000000" />
<line x1="512.40" y1="164.78" x2="512.40" y2="171.53" stroke="#000000" stroke-width="0.9" />
<line x1="510.80" y1="164.78" x2="514.00" y2="164.78" stroke="#000000" stroke-width="0.9" />
<line x1="510.80" y1="171.53" x2="514.00" y2="171.53" stroke="#000000" stroke-width="0.9" />
<path d="M510.70 166.85 L514.10 166.85 L512.40 169.75 Z" fill="#000000" />
<line x1="520.40" y1="160.83" x2="520.40" y2="167.59" stroke="#000000" stroke-width="0.9" />
<line x1="518.80" y1="160.83" x2="522.00" y2="160.83" stroke="#000000" stroke-width="0.9" />
<line x1="518.80" y1="167.59" x2="522.00" y2="167.59" stroke="#000000" stroke-width="0.9" />
<path d="M518.70 162.91 L522.10 162.91 L520.40 165.81 Z" fill="#000000" />
<polyline points="400.40,246.97 409.73,244.72 419.07,237.40 428.40,227.27 437.73,219.39 447.07,213.19 456.40,203.62 465.73,192.93 475.06,181.10 484.40,172.66 493.73,170.97 503.06,169.28 512.40,161.96 520.40,158.02" fill="none" stroke="#2ef02e" stroke-width="1.7"/>
<line x1="400.40" y1="243.60" x2="400.40" y2="250.35" stroke="#2ef02e" stroke-width="0.9" />
<line x1="398.80" y1="243.60" x2="402.00" y2="243.60" stroke="#2ef02e" stroke-width="0.9" />
<line x1="398.80" y1="250.35" x2="402.00" y2="250.35" stroke="#2ef02e" stroke-width="0.9" />
<path d="M398.70 245.67 L402.10 245.67 L400.40 248.57 Z" fill="#2ef02e" />
<line x1="409.73" y1="241.34" x2="409.73" y2="248.10" stroke="#2ef02e" stroke-width="0.9" />
<line x1="408.13" y1="241.34" x2="411.33" y2="241.34" stroke="#2ef02e" stroke-width="0.9" />
<line x1="408.13" y1="248.10" x2="411.33" y2="248.10" stroke="#2ef02e" stroke-width="0.9" />
<path d="M408.03 243.42 L411.43 243.42 L409.73 246.32 Z" fill="#2ef02e" />
<line x1="419.07" y1="234.02" x2="419.07" y2="240.78" stroke="#2ef02e" stroke-width="0.9" />
<line x1="417.47" y1="234.02" x2="420.67" y2="234.02" stroke="#2ef02e" stroke-width="0.9" />
<line x1="417.47" y1="240.78" x2="420.67" y2="240.78" stroke="#2ef02e" stroke-width="0.9" />
<path d="M417.37 236.10 L420.77 236.10 L419.07 239.00 Z" fill="#2ef02e" />
<line x1="428.40" y1="223.89" x2="428.40" y2="230.65" stroke="#2ef02e" stroke-width="0.9" />
<line x1="426.80" y1="223.89" x2="430.00" y2="223.89" stroke="#2ef02e" stroke-width="0.9" />
<line x1="426.80" y1="230.65" x2="430.00" y2="230.65" stroke="#2ef02e" stroke-width="0.9" />
<path d="M426.70 225.97 L430.10 225.97 L428.40 228.87 Z" fill="#2ef02e" />
<line x1="437.73" y1="216.01" x2="437.73" y2="222.76" stroke="#2ef02e" stroke-width="0.9" />
<line x1="436.13" y1="216.01" x2="439.33" y2="216.01" stroke="#2ef02e" stroke-width="0.9" />
<line x1="436.13" y1="222.76" x2="439.33" y2="222.76" stroke="#2ef02e" stroke-width="0.9" />
<path d="M436.03 218.09 L439.43 218.09 L437.73 220.99 Z" fill="#2ef02e" />
<line x1="447.07" y1="209.82" x2="447.07" y2="216.57" stroke="#2ef02e" stroke-width="0.9" />
<line x1="445.47" y1="209.82" x2="448.67" y2="209.82" stroke="#2ef02e" stroke-width="0.9" />
<line x1="445.47" y1="216.57" x2="448.67" y2="216.57" stroke="#2ef02e" stroke-width="0.9" />
<path d="M445.37 211.89 L448.77 211.89 L447.07 214.79 Z" fill="#2ef02e" />
<line x1="456.40" y1="200.24" x2="456.40" y2="207.00" stroke="#2ef02e" stroke-width="0.9" />
<line x1="454.80" y1="200.24" x2="458.00" y2="200.24" stroke="#2ef02e" stroke-width="0.9" />
<line x1="454.80" y1="207.00" x2="458.00" y2="207.00" stroke="#2ef02e" stroke-width="0.9" />
<path d="M454.70 202.32 L458.10 202.32 L456.40 205.22 Z" fill="#2ef02e" />
<line x1="465.73" y1="189.55" x2="465.73" y2="196.30" stroke="#2ef02e" stroke-width="0.9" />
<line x1="464.13" y1="189.55" x2="467.33" y2="189.55" stroke="#2ef02e" stroke-width="0.9" />
<line x1="464.13" y1="196.30" x2="467.33" y2="196.30" stroke="#2ef02e" stroke-width="0.9" />
<path d="M464.03 191.62 L467.43 191.62 L465.73 194.53 Z" fill="#2ef02e" />
<line x1="475.06" y1="177.72" x2="475.06" y2="184.48" stroke="#2ef02e" stroke-width="0.9" />
<line x1="473.46" y1="177.72" x2="476.66" y2="177.72" stroke="#2ef02e" stroke-width="0.9" />
<line x1="473.46" y1="184.48" x2="476.66" y2="184.48" stroke="#2ef02e" stroke-width="0.9" />
<path d="M473.36 179.80 L476.76 179.80 L475.06 182.70 Z" fill="#2ef02e" />
<line x1="484.40" y1="169.28" x2="484.40" y2="176.03" stroke="#2ef02e" stroke-width="0.9" />
<line x1="482.80" y1="169.28" x2="486.00" y2="169.28" stroke="#2ef02e" stroke-width="0.9" />
<line x1="482.80" y1="176.03" x2="486.00" y2="176.03" stroke="#2ef02e" stroke-width="0.9" />
<path d="M482.70 171.36 L486.10 171.36 L484.40 174.26 Z" fill="#2ef02e" />
<line x1="493.73" y1="167.59" x2="493.73" y2="174.35" stroke="#2ef02e" stroke-width="0.9" />
<line x1="492.13" y1="167.59" x2="495.33" y2="167.59" stroke="#2ef02e" stroke-width="0.9" />
<line x1="492.13" y1="174.35" x2="495.33" y2="174.35" stroke="#2ef02e" stroke-width="0.9" />
<path d="M492.03 169.67 L495.43 169.67 L493.73 172.57 Z" fill="#2ef02e" />
<line x1="503.06" y1="165.90" x2="503.06" y2="172.66" stroke="#2ef02e" stroke-width="0.9" />
<line x1="501.46" y1="165.90" x2="504.66" y2="165.90" stroke="#2ef02e" stroke-width="0.9" />
<line x1="501.46" y1="172.66" x2="504.66" y2="172.66" stroke="#2ef02e" stroke-width="0.9" />
<path d="M501.36 167.98 L504.76 167.98 L503.06 170.88 Z" fill="#2ef02e" />
<line x1="512.40" y1="158.58" x2="512.40" y2="165.34" stroke="#2ef02e" stroke-width="0.9" />
<line x1="510.80" y1="158.58" x2="514.00" y2="158.58" stroke="#2ef02e" stroke-width="0.9" />
<line x1="510.80" y1="165.34" x2="514.00" y2="165.34" stroke="#2ef02e" stroke-width="0.9" />
<path d="M510.70 160.66 L514.10 160.66 L512.40 163.56 Z" fill="#2ef02e" />
<line x1="520.40" y1="154.64" x2="520.40" y2="161.40" stroke="#2ef02e" stroke-width="0.9" />
<line x1="518.80" y1="154.64" x2="522.00" y2="154.64" stroke="#2ef02e" stroke-width="0.9" />
<line x1="518.80" y1="161.40" x2="522.00" y2="161.40" stroke="#2ef02e" stroke-width="0.9" />
<path d="M518.70 156.72 L522.10 156.72 L520.40 159.62 Z" fill="#2ef02e" />
<text x="446.60" y="207.60" font-size="6" fill="#000" font-weight="bold" font-family='"Liberation Sans", sans-serif' text-anchor="middle" stroke="#000" stroke-width="0.240" stroke-linejoin="round" >*</text>
<text x="475.20" y="177.20" font-size="5.2" fill="#000" font-weight="bold" font-family='"Liberation Sans", sans-serif' text-anchor="middle" stroke="#000" stroke-width="0.208" stroke-linejoin="round" >&amp;</text>
<line x1="407.00" y1="149.40" x2="415.40" y2="149.40" stroke="#9b9bf0" stroke-width="1.9" />
<ellipse cx="411.20" cy="149.40" rx="2.40" ry="1.70" fill="#9b9bf0" />
<text x="419.60" y="151.60" font-size="6.5" fill="#000" font-weight="bold" font-family='"Liberation Sans", sans-serif' textLength="11.30" lengthAdjust="spacingAndGlyphs" stroke="#000" stroke-width="0.260" stroke-linejoin="round" >Con</text>
<line x1="407.00" y1="158.00" x2="415.40" y2="158.00" stroke="#ee2a7b" stroke-width="1.9" />
<ellipse cx="411.20" cy="158.00" rx="2.40" ry="1.70" fill="#ee2a7b" />
<text x="419.60" y="160.20" font-size="6.5" fill="#000" font-weight="bold" font-family='"Liberation Sans", sans-serif' textLength="12.20" lengthAdjust="spacingAndGlyphs" stroke="#000" stroke-width="0.260" stroke-linejoin="round" >ASD</text>
<line x1="407.00" y1="167.30" x2="415.40" y2="167.30" stroke="#000000" stroke-width="1.9" />
<ellipse cx="411.20" cy="167.30" rx="2.40" ry="1.70" fill="#000000" />
<text x="419.60" y="169.50" font-size="6.5" fill="#000" font-weight="bold" font-family='"Liberation Sans", sans-serif' textLength="44.20" lengthAdjust="spacingAndGlyphs" stroke="#000" stroke-width="0.260" stroke-linejoin="round" >ASD+LowPM2.5</text>
<line x1="407.00" y1="176.40" x2="415.40" y2="176.40" stroke="#2ef02e" stroke-width="1.9" />
<ellipse cx="411.20" cy="176.40" rx="2.40" ry="1.70" fill="#2ef02e" />
<text x="419.60" y="178.60" font-size="6.5" fill="#000" font-weight="bold" font-family='"Liberation Sans", sans-serif' textLength="44.90" lengthAdjust="spacingAndGlyphs" stroke="#000" stroke-width="0.260" stroke-linejoin="round" >ASD+HighPM2.5</text>
<text x="8.90" y="302.60" font-size="10.6" fill="#000" font-weight="bold" font-family='"Liberation Sans", sans-serif' stroke="#000" stroke-width="0.280" stroke-linejoin="round" >D</text>
<text x="111.30" y="303.40" font-size="9.82" fill="#1414ee" font-weight="bold" font-family='"Liberation Sans", sans-serif' stroke="#1414ee" stroke-width="0.280" stroke-linejoin="round" >Three Chamber Tests</text>
<defs>
<g id="cage">
<rect x="0.6" y="2" width="16.4" height="22.6" fill="#dfe8e8"/>
<path d="M1.3 2 V24.6 M4.2 2 V24.6 M7.2 2 V24.6 M10.4 2 V24.6 M13.4 2 V24.6 M16.3 2 V24.6" stroke="#6a8a8a" stroke-width="0.9"/>
<ellipse cx="8.8" cy="2.2" rx="8.9" ry="2.3" fill="#587a7a"/>
<ellipse cx="8.8" cy="24.4" rx="8.9" ry="2.3" fill="#587a7a"/>
<ellipse cx="8.8" cy="23.6" rx="7.5" ry="1.2" fill="#6f9090"/>
</g>
<g id="tmouse">
<path d="M12 5.5 Q16 3.2 19.5 4.2" fill="none" stroke="#ecc0b8" stroke-width="0.9"/>
<ellipse cx="6.6" cy="6.4" rx="6.4" ry="5.1" fill="#3a3430"/>
<ellipse cx="2.6" cy="2.4" rx="1.9" ry="1.7" fill="#e8a8b0"/>
<ellipse cx="7.6" cy="1.6" rx="1.9" ry="1.7" fill="#e8a8b0"/>
<ellipse cx="2.6" cy="5" rx="2.6" ry="3" fill="#3a3430"/>
<ellipse cx="3.6" cy="12.3" rx="0.9" ry="0.7" fill="#e8a8b0"/>
<ellipse cx="10" cy="12.3" rx="0.9" ry="0.7" fill="#e8a8b0"/>
</g>
<g id="smouse">
<path d="M2.5 1.5 Q4.5 0 6.5 1.5 L8.8 9 Q9.5 13 7.5 14 L4.5 14.2 Q2.5 13 2.8 9 Z" fill="#3e2a2a"/>
<path d="M4 3 L5.2 12" stroke="#8a6a6a" stroke-width="0.8"/>
<path d="M6.2 4 L7.6 12" stroke="#6a3a3a" stroke-width="0.9"/>
<ellipse cx="3.2" cy="1.6" rx="0.9" ry="0.8" fill="#d8a0a8"/>
</g>
</defs>
<text x="21.80" y="316.60" font-size="7.8" fill="#1414ee" font-weight="bold" font-family='"Liberation Sans", sans-serif' textLength="68.20" lengthAdjust="spacingAndGlyphs" stroke="#1414ee" stroke-width="0.280" stroke-linejoin="round" >Stage 0: Habituation</text>
<rect x="8.30" y="319.10" width="98.10" height="48.10" fill="#efefef" stroke="#666" stroke-width="1.1"/>
<rect x="9.80" y="320.60" width="95.10" height="45.10" fill="#f4f4f4" />
<rect x="42.80" y="319.10" width="4.20" height="16.70" fill="#fbfbfb" stroke="#5a5a5a" stroke-width="0.8"/>
<rect x="42.80" y="350.40" width="4.20" height="16.80" fill="#fbfbfb" stroke="#5a5a5a" stroke-width="0.8"/>
<rect x="64.20" y="319.10" width="4.40" height="16.70" fill="#fbfbfb" stroke="#5a5a5a" stroke-width="0.8"/>
<rect x="64.20" y="350.40" width="4.40" height="16.80" fill="#fbfbfb" stroke="#5a5a5a" stroke-width="0.8"/>
<use href="#cage" transform="translate(20.4 328.6)"/>
<use href="#cage" transform="translate(76.6 328.6)"/>
<use href="#tmouse" transform="translate(48.2 336.5)"/>
<text x="127.90" y="316.00" font-size="7.8" fill="#1414ee" font-weight="bold" font-family='"Liberation Sans", sans-serif' textLength="65.00" lengthAdjust="spacingAndGlyphs" stroke="#1414ee" stroke-width="0.280" stroke-linejoin="round" >Stage 1: Sociability</text>
<rect x="111.30" y="319.30" width="98.60" height="48.30" fill="#efefef" stroke="#666" stroke-width="1.1"/>
<rect x="112.80" y="320.80" width="95.60" height="45.30" fill="#f4f4f4" />
<rect x="146.20" y="319.30" width="4.00" height="17.30" fill="#fbfbfb" stroke="#5a5a5a" stroke-width="0.8"/>
<rect x="146.20" y="351.00" width="4.00" height="16.60" fill="#fbfbfb" stroke="#5a5a5a" stroke-width="0.8"/>
<rect x="168.40" y="319.30" width="4.00" height="17.30" fill="#fbfbfb" stroke="#5a5a5a" stroke-width="0.8"/>
<rect x="168.40" y="351.00" width="4.00" height="16.60" fill="#fbfbfb" stroke="#5a5a5a" stroke-width="0.8"/>
<use href="#cage" transform="translate(123.8 329.0)"/>
<use href="#cage" transform="translate(185.4 329.0)"/>
<use href="#smouse" transform="translate(188.6 339.6)"/>
<use href="#tmouse" transform="translate(152.0 337.0)"/>
<text x="196.00" y="362.00" font-size="3.3" fill="#111" font-weight="bold" font-family='"Liberation Sans", sans-serif' text-anchor="middle" textLength="15.40" lengthAdjust="spacingAndGlyphs" >Stranger 1</text>
<text x="231.90" y="317.50" font-size="7.8" fill="#1414ee" font-weight="bold" font-family='"Liberation Sans", sans-serif' textLength="78.10" lengthAdjust="spacingAndGlyphs" stroke="#1414ee" stroke-width="0.280" stroke-linejoin="round" >Stage 2: Social Novelty</text>
<rect x="217.70" y="320.00" width="98.80" height="48.80" fill="#efefef" stroke="#666" stroke-width="1.1"/>
<rect x="219.20" y="321.50" width="95.80" height="45.80" fill="#f4f4f4" />
<rect x="253.20" y="320.00" width="4.20" height="17.20" fill="#fbfbfb" stroke="#5a5a5a" stroke-width="0.8"/>
<rect x="253.20" y="351.60" width="4.20" height="17.20" fill="#fbfbfb" stroke="#5a5a5a" stroke-width="0.8"/>
<rect x="274.20" y="320.00" width="4.30" height="17.20" fill="#fbfbfb" stroke="#5a5a5a" stroke-width="0.8"/>
<rect x="274.20" y="351.60" width="4.30" height="17.20" fill="#fbfbfb" stroke="#5a5a5a" stroke-width="0.8"/>
<use href="#cage" transform="translate(230.6 328.0)"/>
<use href="#cage" transform="translate(292.6 328.0)"/>
<use href="#smouse" transform="translate(247.5 338.5) scale(-1 1)"/>
<use href="#smouse" transform="translate(296.5 338.5)"/>
<use href="#tmouse" transform="translate(258.0 337.2)"/>
<text x="240.00" y="360.20" font-size="3.3" fill="#111" font-weight="bold" font-family='"Liberation Sans", sans-serif' text-anchor="middle" textLength="15.40" lengthAdjust="spacingAndGlyphs" >Stranger 2</text>
<text x="302.00" y="360.20" font-size="3.3" fill="#111" font-weight="bold" font-family='"Liberation Sans", sans-serif' text-anchor="middle" textLength="15.40" lengthAdjust="spacingAndGlyphs" >Stranger 1</text>
<text x="344.00" y="306.20" font-size="10.6" fill="#000" font-weight="bold" font-family='"Liberation Sans", sans-serif' stroke="#000" stroke-width="0.280" stroke-linejoin="round" >E</text>
<text x="367.00" y="294.60" font-size="9.3" fill="#1414ee" font-weight="bold" font-family='"Liberation Sans", sans-serif' textLength="122.00" lengthAdjust="spacingAndGlyphs" stroke="#1414ee" stroke-width="0.280" stroke-linejoin="round" >Stage 0 : Chamber Transitions</text>
<rect x="385.95" y="321.65" width="12.50" height="61.05" fill="#8080c8" stroke="#000" stroke-width="1.9"/>
<circle cx="392.20" cy="310.65" r="0.90" fill="#2a2aa0" />
<circle cx="389.20" cy="335.95" r="0.90" fill="#2a2aa0" />
<circle cx="394.20" cy="327.70" r="0.90" fill="#2a2aa0" />
<line x1="392.20" y1="312.30" x2="392.20" y2="331.00" stroke="#000" stroke-width="1.4" />
<line x1="388.40" y1="312.30" x2="396.00" y2="312.30" stroke="#000" stroke-width="1.7" />
<line x1="388.40" y1="331.00" x2="396.00" y2="331.00" stroke="#000" stroke-width="1.7" />
<line x1="392.20" y1="382.70" x2="392.20" y2="384.50" stroke="#000" stroke-width="0.9" />
<text x="393.20" y="387.70" font-size="4.1" fill="#222" font-weight="bold" font-family='"Liberation Sans", sans-serif' text-anchor="end" transform="rotate(-45 393.20 387.70)" >Control</text>
<rect x="407.55" y="329.90" width="13.10" height="52.80" fill="#c080dc" stroke="#000" stroke-width="1.9"/>
<circle cx="414.10" cy="315.88" r="0.90" fill="#9a2acc" />
<circle cx="412.10" cy="338.70" r="0.90" fill="#9a2acc" />
<circle cx="416.10" cy="335.95" r="0.90" fill="#9a2acc" />
<line x1="414.10" y1="321.10" x2="414.10" y2="338.70" stroke="#000" stroke-width="1.4" />
<line x1="410.30" y1="321.10" x2="417.90" y2="321.10" stroke="#000" stroke-width="1.7" />
<line x1="410.30" y1="338.70" x2="417.90" y2="338.70" stroke="#000" stroke-width="1.7" />
<line x1="414.10" y1="382.70" x2="414.10" y2="384.50" stroke="#000" stroke-width="0.9" />
<text x="415.10" y="387.70" font-size="4.1" fill="#222" font-weight="bold" font-family='"Liberation Sans", sans-serif' text-anchor="end" transform="rotate(-45 415.10 387.70)" >ASD</text>
<rect x="429.95" y="331.27" width="13.30" height="51.43" fill="#f090cc" stroke="#000" stroke-width="1.9"/>
<circle cx="436.60" cy="324.12" r="0.90" fill="#d83c9c" />
<circle cx="438.60" cy="335.95" r="0.90" fill="#d83c9c" />
<line x1="436.60" y1="323.85" x2="436.60" y2="338.70" stroke="#000" stroke-width="1.4" />
<line x1="432.80" y1="323.85" x2="440.40" y2="323.85" stroke="#000" stroke-width="1.7" />
<line x1="432.80" y1="338.70" x2="440.40" y2="338.70" stroke="#000" stroke-width="1.7" />
<line x1="436.60" y1="382.70" x2="436.60" y2="384.50" stroke="#000" stroke-width="0.9" />
<text x="437.60" y="387.70" font-size="4.1" fill="#222" font-weight="bold" font-family='"Liberation Sans", sans-serif' text-anchor="end" transform="rotate(-45 437.60 387.70)" >ASD+LowPM2.5</text>
<rect x="452.95" y="326.32" width="13.10" height="56.38" fill="#f8a8a8" stroke="#000" stroke-width="1.9"/>
<circle cx="459.50" cy="319.45" r="0.90" fill="#f06068" />
<circle cx="460.50" cy="338.70" r="0.90" fill="#f06068" />
<circle cx="458.50" cy="330.45" r="0.90" fill="#f06068" />
<line x1="459.50" y1="318.07" x2="459.50" y2="334.57" stroke="#000" stroke-width="1.4" />
<line x1="455.70" y1="318.07" x2="463.30" y2="318.07" stroke="#000" stroke-width="1.7" />
<line x1="455.70" y1="334.57" x2="463.30" y2="334.57" stroke="#000" stroke-width="1.7" />
<line x1="459.50" y1="382.70" x2="459.50" y2="384.50" stroke="#000" stroke-width="0.9" />
<text x="460.50" y="387.70" font-size="4.1" fill="#222" font-weight="bold" font-family='"Liberation Sans", sans-serif' text-anchor="end" transform="rotate(-45 460.50 387.70)" >ASD+HighPM2.5</text>
<line x1="377.20" y1="300.00" x2="377.20" y2="383.70" stroke="#000" stroke-width="2.0" />
<line x1="376.20" y1="382.70" x2="475.30" y2="382.70" stroke="#000" stroke-width="2.0" />
<line x1="375.60" y1="382.70" x2="377.20" y2="382.70" stroke="#000" stroke-width="0.8" />
<text x="375.00" y="384.20" font-size="3.8" fill="#222" font-weight="bold" font-family='"Liberation Sans", sans-serif' text-anchor="end" >0</text>
<line x1="375.60" y1="355.20" x2="377.20" y2="355.20" stroke="#000" stroke-width="0.8" />
<text x="375.00" y="356.70" font-size="3.8" fill="#222" font-weight="bold" font-family='"Liberation Sans", sans-serif' text-anchor="end" >100</text>
<line x1="375.60" y1="327.70" x2="377.20" y2="327.70" stroke="#000" stroke-width="0.8" />
<text x="375.00" y="329.20" font-size="3.8" fill="#222" font-weight="bold" font-family='"Liberation Sans", sans-serif' text-anchor="end" >200</text>
<line x1="375.60" y1="300.20" x2="377.20" y2="300.20" stroke="#000" stroke-width="0.8" />
<text x="375.00" y="301.70" font-size="3.8" fill="#222" font-weight="bold" font-family='"Liberation Sans", sans-serif' text-anchor="end" >300</text>
<line x1="393.20" y1="304.00" x2="465.20" y2="304.00" stroke="#000" stroke-width="1.7" />
<text x="430.40" y="301.60" font-size="6.3" fill="#000" font-weight="bold" font-family='"Liberation Sans", sans-serif' text-anchor="middle" textLength="10.60" lengthAdjust="spacingAndGlyphs" stroke="#000" stroke-width="0.252" stroke-linejoin="round" >N.S</text>
<text x="359.00" y="341.50" font-size="5.6" fill="#111" font-weight="bold" font-family='"Liberation Sans", sans-serif' text-anchor="middle" textLength="76.30" lengthAdjust="spacingAndGlyphs" transform="rotate(-90 359.00 341.50)" stroke="#111" stroke-width="0.224" stroke-linejoin="round" >Relative chamber transitions</text>
<text x="365.60" y="341.20" font-size="5.6" fill="#111" font-weight="bold" font-family='"Liberation Sans", sans-serif' text-anchor="middle" textLength="37.60" lengthAdjust="spacingAndGlyphs" transform="rotate(-90 365.60 341.20)" stroke="#111" stroke-width="0.224" stroke-linejoin="round" >during stage 0</text>
<text x="10.00" y="430.00" font-size="10.6" fill="#000" font-weight="bold" font-family='"Liberation Sans", sans-serif' stroke="#000" stroke-width="0.280" stroke-linejoin="round" >F</text>
<text x="91.00" y="423.80" font-size="9.3" fill="#1414ee" font-weight="bold" font-family='"Liberation Sans", sans-serif' textLength="99.50" lengthAdjust="spacingAndGlyphs" stroke="#1414ee" stroke-width="0.280" stroke-linejoin="round" >Stage 1 : Sociability Test</text>
<line x1="45.80" y1="429.60" x2="228.70" y2="429.60" stroke="#000" stroke-width="2.6" />
<rect x="40.55" y="462.51" width="12.70" height="56.49" fill="#8080c8" stroke="#000" stroke-width="1.9"/>
<circle cx="46.90" cy="445.13" r="0.90" fill="#2a2aa0" />
<circle cx="46.90" cy="480.69" r="0.90" fill="#2a2aa0" />
<circle cx="48.90" cy="473.57" r="0.90" fill="#2a2aa0" />
<line x1="46.90" y1="448.69" x2="46.90" y2="476.34" stroke="#000" stroke-width="1.4" />
<line x1="43.10" y1="448.69" x2="50.70" y2="448.69" stroke="#000" stroke-width="1.7" />
<line x1="43.10" y1="476.34" x2="50.70" y2="476.34" stroke="#000" stroke-width="1.7" />
<line x1="46.90" y1="519.00" x2="46.90" y2="520.80" stroke="#000" stroke-width="0.9" />
<text x="47.90" y="524.00" font-size="4.1" fill="#222" font-weight="bold" font-family='"Liberation Sans", sans-serif' text-anchor="end" transform="rotate(-45 47.90 524.00)" >Control</text>
<rect x="62.05" y="484.04" width="12.80" height="34.96" fill="#c080dc" stroke="#000" stroke-width="1.9"/>
<circle cx="68.45" cy="472.00" r="0.90" fill="#9a2acc" />
<circle cx="66.45" cy="487.40" r="0.90" fill="#9a2acc" />
<circle cx="70.45" cy="483.45" r="0.90" fill="#9a2acc" />
<line x1="68.45" y1="476.93" x2="68.45" y2="491.15" stroke="#000" stroke-width="1.4" />
<line x1="64.65" y1="476.93" x2="72.25" y2="476.93" stroke="#000" stroke-width="1.7" />
<line x1="64.65" y1="491.15" x2="72.25" y2="491.15" stroke="#000" stroke-width="1.7" />
<line x1="68.45" y1="519.00" x2="68.45" y2="520.80" stroke="#000" stroke-width="0.9" />
<text x="69.45" y="524.00" font-size="4.1" fill="#222" font-weight="bold" font-family='"Liberation Sans", sans-serif' text-anchor="end" transform="rotate(-45 69.45 524.00)" >ASD</text>
<rect x="83.65" y="500.04" width="12.40" height="18.96" fill="#f090cc" stroke="#000" stroke-width="1.9"/>
<circle cx="89.85" cy="496.88" r="0.90" fill="#d83c9c" />
<circle cx="87.85" cy="500.24" r="0.90" fill="#d83c9c" />
<circle cx="91.85" cy="499.25" r="0.90" fill="#d83c9c" />
<line x1="89.85" y1="498.26" x2="89.85" y2="501.82" stroke="#000" stroke-width="1.4" />
<line x1="86.05" y1="498.26" x2="93.65" y2="498.26" stroke="#000" stroke-width="1.7" />
<line x1="86.05" y1="501.82" x2="93.65" y2="501.82" stroke="#000" stroke-width="1.7" />
<line x1="89.85" y1="519.00" x2="89.85" y2="520.80" stroke="#000" stroke-width="0.9" />
<text x="90.85" y="524.00" font-size="4.1" fill="#222" font-weight="bold" font-family='"Liberation Sans", sans-serif' text-anchor="end" transform="rotate(-45 90.85 524.00)" >ASD+LowPM2.5</text>
<rect x="105.25" y="513.87" width="12.80" height="5.13" fill="#f8a8a8" stroke="#000" stroke-width="1.9"/>
<circle cx="111.65" cy="510.11" r="0.90" fill="#f06068" />
<circle cx="109.65" cy="514.06" r="0.90" fill="#f06068" />
<circle cx="113.65" cy="513.08" r="0.90" fill="#f06068" />
<line x1="111.65" y1="511.50" x2="111.65" y2="516.24" stroke="#000" stroke-width="1.4" />
<line x1="107.85" y1="511.50" x2="115.45" y2="511.50" stroke="#000" stroke-width="1.7" />
<line x1="107.85" y1="516.24" x2="115.45" y2="516.24" stroke="#000" stroke-width="1.7" />
<line x1="111.65" y1="519.00" x2="111.65" y2="520.80" stroke="#000" stroke-width="0.9" />
<text x="112.65" y="524.00" font-size="4.1" fill="#222" font-weight="bold" font-family='"Liberation Sans", sans-serif' text-anchor="end" transform="rotate(-45 112.65 524.00)" >ASD+HighPM2.5</text>
<line x1="33.00" y1="440.00" x2="33.00" y2="520.00" stroke="#000" stroke-width="2.0" />
<line x1="32.00" y1="519.00" x2="126.50" y2="519.00" stroke="#000" stroke-width="2.0" />
<line x1="31.40" y1="519.00" x2="33.00" y2="519.00" stroke="#000" stroke-width="0.8" />
<text x="30.80" y="520.50" font-size="4.3" fill="#222" font-weight="bold" font-family='"Liberation Sans", sans-serif' text-anchor="end" >0</text>
<line x1="31.40" y1="499.25" x2="33.00" y2="499.25" stroke="#000" stroke-width="0.8" />
<text x="30.80" y="500.75" font-size="4.3" fill="#222" font-weight="bold" font-family='"Liberation Sans", sans-serif' text-anchor="end" >100</text>
<line x1="31.40" y1="479.50" x2="33.00" y2="479.50" stroke="#000" stroke-width="0.8" />
<text x="30.80" y="481.00" font-size="4.3" fill="#222" font-weight="bold" font-family='"Liberation Sans", sans-serif' text-anchor="end" >200</text>
<line x1="31.40" y1="459.75" x2="33.00" y2="459.75" stroke="#000" stroke-width="0.8" />
<text x="30.80" y="461.25" font-size="4.3" fill="#222" font-weight="bold" font-family='"Liberation Sans", sans-serif' text-anchor="end" >300</text>
<line x1="31.40" y1="440.00" x2="33.00" y2="440.00" stroke="#000" stroke-width="0.8" />
<text x="30.80" y="441.50" font-size="4.3" fill="#222" font-weight="bold" font-family='"Liberation Sans", sans-serif' text-anchor="end" >400</text>
<line x1="43.30" y1="441.00" x2="70.30" y2="441.00" stroke="#000" stroke-width="1.7" />
<path d="M55.25 435.85 L55.25 438.35 M54.17 436.48 L56.33 437.73 M54.17 437.73 L56.33 436.48 " stroke="#000" stroke-width="0.95" stroke-linecap="round"/>
<path d="M58.35 435.85 L58.35 438.35 M57.27 436.48 L59.43 437.73 M57.27 437.73 L59.43 436.48 " stroke="#000" stroke-width="0.95" stroke-linecap="round"/>
<line x1="67.00" y1="452.00" x2="128.00" y2="452.00" stroke="#000" stroke-width="1.7" />
<path d="M95.95 446.85 L95.95 449.35 M94.87 447.48 L97.03 448.73 M94.87 448.73 L97.03 447.48 " stroke="#000" stroke-width="0.95" stroke-linecap="round"/>
<path d="M99.05 446.85 L99.05 449.35 M97.97 447.48 L100.13 448.73 M97.97 448.73 L100.13 447.48 " stroke="#000" stroke-width="0.95" stroke-linecap="round"/>
<line x1="67.00" y1="465.90" x2="94.50" y2="465.90" stroke="#000" stroke-width="1.7" />
<path d="M79.20 460.75 L79.20 463.25 M78.12 461.38 L80.28 462.62 M78.12 462.62 L80.28 461.38 " stroke="#000" stroke-width="0.95" stroke-linecap="round"/>
<path d="M82.30 460.75 L82.30 463.25 M81.22 461.38 L83.38 462.62 M81.22 462.62 L83.38 461.38 " stroke="#000" stroke-width="0.95" stroke-linecap="round"/>
<line x1="89.10" y1="488.30" x2="116.10" y2="488.30" stroke="#000" stroke-width="1.7" />
<path d="M102.60 483.15 L102.60 485.65 M101.52 483.78 L103.68 485.03 M101.52 485.03 L103.68 483.78 " stroke="#000" stroke-width="0.95" stroke-linecap="round"/>
<text x="18.30" y="480.00" font-size="6.0" fill="#111" font-weight="bold" font-family='"Liberation Sans", sans-serif' text-anchor="middle" textLength="74.00" lengthAdjust="spacingAndGlyphs" transform="rotate(-90 18.30 480.00)" stroke="#111" stroke-width="0.240" stroke-linejoin="round" >Relative Sniffing Duration</text>
<rect x="185.45" y="463.84" width="12.50" height="15.66" fill="#8080c8" stroke="#000" stroke-width="1.9"/>
<circle cx="191.70" cy="456.84" r="0.90" fill="#2a2aa0" />
<circle cx="189.70" cy="467.14" r="0.90" fill="#2a2aa0" />
<circle cx="193.70" cy="465.08" r="0.90" fill="#2a2aa0" />
<line x1="191.70" y1="458.49" x2="191.70" y2="469.20" stroke="#000" stroke-width="1.4" />
<line x1="187.90" y1="458.49" x2="195.50" y2="458.49" stroke="#000" stroke-width="1.7" />
<line x1="187.90" y1="469.20" x2="195.50" y2="469.20" stroke="#000" stroke-width="1.7" />
<line x1="191.70" y1="520.40" x2="191.70" y2="522.20" stroke="#000" stroke-width="0.9" />
<text x="192.70" y="525.40" font-size="4.1" fill="#222" font-weight="bold" font-family='"Liberation Sans", sans-serif' text-anchor="end" transform="rotate(-45 192.70 525.40)" >Control</text>
<rect x="207.95" y="477.44" width="12.50" height="2.06" fill="#c080dc" stroke="#000" stroke-width="1.9"/>
<circle cx="214.20" cy="473.32" r="0.90" fill="#9a2acc" />
<circle cx="211.20" cy="479.50" r="0.90" fill="#9a2acc" />
<circle cx="217.20" cy="481.56" r="0.90" fill="#9a2acc" />
<circle cx="215.20" cy="476.20" r="0.90" fill="#9a2acc" />
<line x1="214.20" y1="473.32" x2="214.20" y2="481.56" stroke="#000" stroke-width="1.4" />
<line x1="210.40" y1="473.32" x2="218.00" y2="473.32" stroke="#000" stroke-width="1.7" />
<line x1="210.40" y1="481.56" x2="218.00" y2="481.56" stroke="#000" stroke-width="1.7" />
<line x1="214.20" y1="520.40" x2="214.20" y2="522.20" stroke="#000" stroke-width="0.9" />
<text x="215.20" y="525.40" font-size="4.1" fill="#222" font-weight="bold" font-family='"Liberation Sans", sans-serif' text-anchor="end" transform="rotate(-45 215.20 525.40)" >ASD</text>
<rect x="229.95" y="479.50" width="13.10" height="8.24" fill="#f090cc" stroke="#000" stroke-width="1.9"/>
<circle cx="236.50" cy="483.62" r="0.90" fill="#d83c9c" />
<circle cx="234.50" cy="491.86" r="0.90" fill="#d83c9c" />
<circle cx="238.50" cy="489.80" r="0.90" fill="#d83c9c" />
<line x1="236.50" y1="491.86" x2="236.50" y2="483.62" stroke="#000" stroke-width="1.4" />
<line x1="232.70" y1="491.86" x2="240.30" y2="491.86" stroke="#000" stroke-width="1.7" />
<line x1="232.70" y1="483.62" x2="240.30" y2="483.62" stroke="#000" stroke-width="1.7" />
<line x1="236.50" y1="520.40" x2="236.50" y2="522.20" stroke="#000" stroke-width="0.9" />
<text x="237.50" y="525.40" font-size="4.1" fill="#222" font-weight="bold" font-family='"Liberation Sans", sans-serif' text-anchor="end" transform="rotate(-45 237.50 525.40)" >ASD+LowPM2.5</text>
<rect x="252.95" y="479.50" width="12.50" height="19.36" fill="#f8a8a8" stroke="#000" stroke-width="1.9"/>
<circle cx="259.20" cy="483.62" r="0.90" fill="#f06068" />
<circle cx="255.20" cy="502.16" r="0.90" fill="#f06068" />
<circle cx="263.20" cy="503.40" r="0.90" fill="#f06068" />
<circle cx="259.20" cy="504.22" r="0.90" fill="#f06068" />
<line x1="259.20" y1="504.22" x2="259.20" y2="493.51" stroke="#000" stroke-width="1.4" />
<line x1="255.40" y1="504.22" x2="263.00" y2="504.22" stroke="#000" stroke-width="1.7" />
<line x1="255.40" y1="493.51" x2="263.00" y2="493.51" stroke="#000" stroke-width="1.7" />
<line x1="259.20" y1="520.40" x2="259.20" y2="522.20" stroke="#000" stroke-width="0.9" />
<text x="260.20" y="525.40" font-size="4.1" fill="#222" font-weight="bold" font-family='"Liberation Sans", sans-serif' text-anchor="end" transform="rotate(-45 260.20 525.40)" >ASD+HighPM2.5</text>
<line x1="175.80" y1="438.00" x2="175.80" y2="521.40" stroke="#000" stroke-width="2.0" />
<line x1="174.80" y1="520.40" x2="274.00" y2="520.40" stroke="#000" stroke-width="2.0" />
<line x1="175.80" y1="479.50" x2="274.00" y2="479.50" stroke="#000" stroke-width="1.3" />
<line x1="174.20" y1="520.70" x2="175.80" y2="520.70" stroke="#000" stroke-width="0.8" />
<text x="173.60" y="522.20" font-size="4.3" fill="#222" font-weight="bold" font-family='"Liberation Sans", sans-serif' text-anchor="end" >-100</text>
<line x1="174.20" y1="500.10" x2="175.80" y2="500.10" stroke="#000" stroke-width="0.8" />
<text x="173.60" y="501.60" font-size="4.3" fill="#222" font-weight="bold" font-family='"Liberation Sans", sans-serif' text-anchor="end" >-50</text>
<line x1="174.20" y1="479.50" x2="175.80" y2="479.50" stroke="#000" stroke-width="0.8" />
<text x="173.60" y="481.00" font-size="4.3" fill="#222" font-weight="bold" font-family='"Liberation Sans", sans-serif' text-anchor="end" >0</text>
<line x1="174.20" y1="458.90" x2="175.80" y2="458.90" stroke="#000" stroke-width="0.8" />
<text x="173.60" y="460.40" font-size="4.3" fill="#222" font-weight="bold" font-family='"Liberation Sans", sans-serif' text-anchor="end" >50</text>
<line x1="174.20" y1="438.30" x2="175.80" y2="438.30" stroke="#000" stroke-width="0.8" />
<text x="173.60" y="439.80" font-size="4.3" fill="#222" font-weight="bold" font-family='"Liberation Sans", sans-serif' text-anchor="end" >100</text>
<line x1="189.50" y1="450.40" x2="219.40" y2="450.40" stroke="#000" stroke-width="1.7" />
<path d="M202.90 445.25 L202.90 447.75 M201.82 445.88 L203.98 447.12 M201.82 447.12 L203.98 445.88 " stroke="#000" stroke-width="0.95" stroke-linecap="round"/>
<path d="M206.00 445.25 L206.00 447.75 M204.92 445.88 L207.08 447.12 M204.92 447.12 L207.08 445.88 " stroke="#000" stroke-width="0.95" stroke-linecap="round"/>
<line x1="217.30" y1="442.70" x2="260.40" y2="442.70" stroke="#000" stroke-width="1.7" />
<path d="M237.30 437.55 L237.30 440.05 M236.22 438.18 L238.38 439.43 M236.22 439.43 L238.38 438.18 " stroke="#000" stroke-width="0.95" stroke-linecap="round"/>
<path d="M240.40 437.55 L240.40 440.05 M239.32 438.18 L241.48 439.43 M239.32 439.43 L241.48 438.18 " stroke="#000" stroke-width="0.95" stroke-linecap="round"/>
<line x1="211.30" y1="463.20" x2="241.30" y2="463.20" stroke="#000" stroke-width="1.7" />
<path d="M226.30 458.05 L226.30 460.55 M225.22 458.68 L227.38 459.93 M225.22 459.93 L227.38 458.68 " stroke="#000" stroke-width="0.95" stroke-linecap="round"/>
<line x1="232.30" y1="472.70" x2="262.30" y2="472.70" stroke="#000" stroke-width="1.7" />
<path d="M245.75 467.55 L245.75 470.05 M244.67 468.18 L246.83 469.43 M244.67 469.43 L246.83 468.18 " stroke="#000" stroke-width="0.95" stroke-linecap="round"/>
<path d="M248.85 467.55 L248.85 470.05 M247.77 468.18 L249.93 469.43 M247.77 469.43 L249.93 468.18 " stroke="#000" stroke-width="0.95" stroke-linecap="round"/>
<text x="161.60" y="478.60" font-size="5.9" fill="#111" font-weight="bold" font-family='"Liberation Sans", sans-serif' text-anchor="middle" textLength="82.00" lengthAdjust="spacingAndGlyphs" transform="rotate(-90 161.60 478.60)" stroke="#111" stroke-width="0.236" stroke-linejoin="round" >Sociability Preference Index %</text>
<text x="285.50" y="432.60" font-size="10.6" fill="#000" font-weight="bold" font-family='"Liberation Sans", sans-serif' stroke="#000" stroke-width="0.280" stroke-linejoin="round" >G</text>
<text x="355.00" y="429.20" font-size="9.3" fill="#1414ee" font-weight="bold" font-family='"Liberation Sans", sans-serif' textLength="114.50" lengthAdjust="spacingAndGlyphs" stroke="#1414ee" stroke-width="0.280" stroke-linejoin="round" >Stage 2 : Social Novelty Test</text>
<line x1="317.00" y1="432.30" x2="501.40" y2="432.30" stroke="#000" stroke-width="2.6" />
<rect x="315.35" y="463.45" width="12.30" height="58.05" fill="#8080c8" stroke="#000" stroke-width="1.9"/>
<circle cx="321.50" cy="444.55" r="0.90" fill="#2a2aa0" />
<circle cx="319.50" cy="483.70" r="0.90" fill="#2a2aa0" />
<circle cx="323.50" cy="476.95" r="0.90" fill="#2a2aa0" />
<line x1="321.50" y1="449.95" x2="321.50" y2="476.95" stroke="#000" stroke-width="1.4" />
<line x1="317.70" y1="449.95" x2="325.30" y2="449.95" stroke="#000" stroke-width="1.7" />
<line x1="317.70" y1="476.95" x2="325.30" y2="476.95" stroke="#000" stroke-width="1.7" />
<line x1="321.50" y1="521.50" x2="321.50" y2="523.30" stroke="#000" stroke-width="0.9" />
<text x="322.50" y="526.50" font-size="4.1" fill="#222" font-weight="bold" font-family='"Liberation Sans", sans-serif' text-anchor="end" transform="rotate(-45 322.50 526.50)" >Control</text>
<rect x="336.55" y="486.94" width="12.50" height="34.56" fill="#c080dc" stroke="#000" stroke-width="1.9"/>
<circle cx="342.80" cy="475.60" r="0.90" fill="#9a2acc" />
<circle cx="340.80" cy="491.80" r="0.90" fill="#9a2acc" />
<circle cx="344.80" cy="487.75" r="0.90" fill="#9a2acc" />
<line x1="342.80" y1="480.19" x2="342.80" y2="493.69" stroke="#000" stroke-width="1.4" />
<line x1="339.00" y1="480.19" x2="346.60" y2="480.19" stroke="#000" stroke-width="1.7" />
<line x1="339.00" y1="493.69" x2="346.60" y2="493.69" stroke="#000" stroke-width="1.7" />
<line x1="342.80" y1="521.50" x2="342.80" y2="523.30" stroke="#000" stroke-width="0.9" />
<text x="343.80" y="526.50" font-size="4.1" fill="#222" font-weight="bold" font-family='"Liberation Sans", sans-serif' text-anchor="end" transform="rotate(-45 343.80 526.50)" >ASD</text>
<rect x="357.95" y="500.71" width="12.80" height="20.79" fill="#f090cc" stroke="#000" stroke-width="1.9"/>
<circle cx="364.35" cy="498.55" r="0.90" fill="#d83c9c" />
<circle cx="362.35" cy="502.06" r="0.90" fill="#d83c9c" />
<circle cx="366.35" cy="500.44" r="0.90" fill="#d83c9c" />
<line x1="364.35" y1="498.55" x2="364.35" y2="502.87" stroke="#000" stroke-width="1.4" />
<line x1="360.55" y1="498.55" x2="368.15" y2="498.55" stroke="#000" stroke-width="1.7" />
<line x1="360.55" y1="502.87" x2="368.15" y2="502.87" stroke="#000" stroke-width="1.7" />
<line x1="364.35" y1="521.50" x2="364.35" y2="523.30" stroke="#000" stroke-width="0.9" />
<text x="365.35" y="526.50" font-size="4.1" fill="#222" font-weight="bold" font-family='"Liberation Sans", sans-serif' text-anchor="end" transform="rotate(-45 365.35 526.50)" >ASD+LowPM2.5</text>
<rect x="379.75" y="514.21" width="12.60" height="7.29" fill="#f8a8a8" stroke="#000" stroke-width="1.9"/>
<circle cx="386.05" cy="512.59" r="0.90" fill="#f06068" />
<circle cx="384.05" cy="514.75" r="0.90" fill="#f06068" />
<circle cx="388.05" cy="513.94" r="0.90" fill="#f06068" />
<line x1="386.05" y1="512.59" x2="386.05" y2="515.83" stroke="#000" stroke-width="1.4" />
<line x1="382.25" y1="512.59" x2="389.85" y2="512.59" stroke="#000" stroke-width="1.7" />
<line x1="382.25" y1="515.83" x2="389.85" y2="515.83" stroke="#000" stroke-width="1.7" />
<line x1="386.05" y1="521.50" x2="386.05" y2="523.30" stroke="#000" stroke-width="0.9" />
<text x="387.05" y="526.50" font-size="4.1" fill="#222" font-weight="bold" font-family='"Liberation Sans", sans-serif' text-anchor="end" transform="rotate(-45 387.05 526.50)" >ASD+HighPM2.5</text>
<line x1="305.50" y1="440.50" x2="305.50" y2="522.50" stroke="#000" stroke-width="2.0" />
<line x1="304.50" y1="521.50" x2="399.00" y2="521.50" stroke="#000" stroke-width="2.0" />
<line x1="303.90" y1="521.50" x2="305.50" y2="521.50" stroke="#000" stroke-width="0.8" />
<text x="303.30" y="523.00" font-size="4.3" fill="#222" font-weight="bold" font-family='"Liberation Sans", sans-serif' text-anchor="end" >0</text>
<line x1="303.90" y1="494.50" x2="305.50" y2="494.50" stroke="#000" stroke-width="0.8" />
<text x="303.30" y="496.00" font-size="4.3" fill="#222" font-weight="bold" font-family='"Liberation Sans", sans-serif' text-anchor="end" >100</text>
<line x1="303.90" y1="467.50" x2="305.50" y2="467.50" stroke="#000" stroke-width="0.8" />
<text x="303.30" y="469.00" font-size="4.3" fill="#222" font-weight="bold" font-family='"Liberation Sans", sans-serif' text-anchor="end" >200</text>
<line x1="303.90" y1="440.50" x2="305.50" y2="440.50" stroke="#000" stroke-width="0.8" />
<text x="303.30" y="442.00" font-size="4.3" fill="#222" font-weight="bold" font-family='"Liberation Sans", sans-serif' text-anchor="end" >300</text>
<line x1="319.50" y1="443.00" x2="348.80" y2="443.00" stroke="#000" stroke-width="1.7" />
<path d="M332.60 437.85 L332.60 440.35 M331.52 438.48 L333.68 439.73 M331.52 439.73 L333.68 438.48 " stroke="#000" stroke-width="0.95" stroke-linecap="round"/>
<path d="M335.70 437.85 L335.70 440.35 M334.62 438.48 L336.78 439.73 M334.62 439.73 L336.78 438.48 " stroke="#000" stroke-width="0.95" stroke-linecap="round"/>
<line x1="343.70" y1="456.30" x2="393.30" y2="456.30" stroke="#000" stroke-width="1.7" />
<path d="M366.95 451.15 L366.95 453.65 M365.87 451.78 L368.03 453.03 M365.87 453.03 L368.03 451.78 " stroke="#000" stroke-width="0.95" stroke-linecap="round"/>
<path d="M370.05 451.15 L370.05 453.65 M368.97 451.78 L371.13 453.03 M368.97 453.03 L371.13 451.78 " stroke="#000" stroke-width="0.95" stroke-linecap="round"/>
<line x1="342.40" y1="471.00" x2="371.70" y2="471.00" stroke="#000" stroke-width="1.7" />
<path d="M357.05 465.85 L357.05 468.35 M355.97 466.48 L358.13 467.73 M355.97 467.73 L358.13 466.48 " stroke="#000" stroke-width="0.95" stroke-linecap="round"/>
<line x1="363.50" y1="492.70" x2="393.30" y2="492.70" stroke="#000" stroke-width="1.7" />
<path d="M378.40 487.55 L378.40 490.05 M377.32 488.18 L379.48 489.43 M377.32 489.43 L379.48 488.18 " stroke="#000" stroke-width="0.95" stroke-linecap="round"/>
<text x="293.60" y="481.00" font-size="6.0" fill="#111" font-weight="bold" font-family='"Liberation Sans", sans-serif' text-anchor="middle" textLength="76.00" lengthAdjust="spacingAndGlyphs" transform="rotate(-90 293.60 481.00)" stroke="#111" stroke-width="0.240" stroke-linejoin="round" >Relative Sniffing Duration</text>
<rect x="454.65" y="466.07" width="12.60" height="16.93" fill="#8080c8" stroke="#000" stroke-width="1.9"/>
<circle cx="460.95" cy="464.46" r="0.90" fill="#2a2aa0" />
<circle cx="457.95" cy="466.88" r="0.90" fill="#2a2aa0" />
<circle cx="463.95" cy="465.27" r="0.90" fill="#2a2aa0" />
<line x1="460.95" y1="464.46" x2="460.95" y2="467.69" stroke="#000" stroke-width="1.4" />
<line x1="457.15" y1="464.46" x2="464.75" y2="464.46" stroke="#000" stroke-width="1.7" />
<line x1="457.15" y1="467.69" x2="464.75" y2="467.69" stroke="#000" stroke-width="1.7" />
<line x1="460.95" y1="521.80" x2="460.95" y2="523.60" stroke="#000" stroke-width="0.9" />
<text x="461.95" y="526.80" font-size="4.1" fill="#222" font-weight="bold" font-family='"Liberation Sans", sans-serif' text-anchor="end" transform="rotate(-45 461.95 526.80)" >Control</text>
<rect x="477.35" y="483.00" width="11.70" height="1.61" fill="#c080dc" stroke="#000" stroke-width="1.9"/>
<circle cx="483.20" cy="480.99" r="0.90" fill="#9a2acc" />
<circle cx="480.20" cy="487.84" r="0.90" fill="#9a2acc" />
<circle cx="486.20" cy="489.05" r="0.90" fill="#9a2acc" />
<circle cx="483.20" cy="490.25" r="0.90" fill="#9a2acc" />
<line x1="483.20" y1="488.64" x2="483.20" y2="480.58" stroke="#000" stroke-width="1.4" />
<line x1="479.40" y1="488.64" x2="487.00" y2="488.64" stroke="#000" stroke-width="1.7" />
<line x1="479.40" y1="480.58" x2="487.00" y2="480.58" stroke="#000" stroke-width="1.7" />
<line x1="483.20" y1="521.80" x2="483.20" y2="523.60" stroke="#000" stroke-width="0.9" />
<text x="484.20" y="526.80" font-size="4.1" fill="#222" font-weight="bold" font-family='"Liberation Sans", sans-serif' text-anchor="end" transform="rotate(-45 484.20 526.80)" >ASD</text>
<rect x="499.65" y="483.00" width="11.80" height="8.87" fill="#f090cc" stroke="#000" stroke-width="1.9"/>
<circle cx="505.55" cy="489.05" r="0.90" fill="#d83c9c" />
<circle cx="503.55" cy="495.09" r="0.90" fill="#d83c9c" />
<circle cx="507.55" cy="497.11" r="0.90" fill="#d83c9c" />
<line x1="505.55" y1="495.90" x2="505.55" y2="487.84" stroke="#000" stroke-width="1.4" />
<line x1="501.75" y1="495.90" x2="509.35" y2="495.90" stroke="#000" stroke-width="1.7" />
<line x1="501.75" y1="487.84" x2="509.35" y2="487.84" stroke="#000" stroke-width="1.7" />
<line x1="505.55" y1="521.80" x2="505.55" y2="523.60" stroke="#000" stroke-width="0.9" />
<text x="506.55" y="526.80" font-size="4.1" fill="#222" font-weight="bold" font-family='"Liberation Sans", sans-serif' text-anchor="end" transform="rotate(-45 506.55 526.80)" >ASD+LowPM2.5</text>
<rect x="522.35" y="483.00" width="12.20" height="19.34" fill="#f8a8a8" stroke="#000" stroke-width="1.9"/>
<circle cx="528.45" cy="487.03" r="0.90" fill="#f06068" />
<circle cx="524.45" cy="505.17" r="0.90" fill="#f06068" />
<circle cx="532.45" cy="506.37" r="0.90" fill="#f06068" />
<circle cx="528.45" cy="507.99" r="0.90" fill="#f06068" />
<line x1="528.45" y1="507.58" x2="528.45" y2="497.11" stroke="#000" stroke-width="1.4" />
<line x1="524.65" y1="507.58" x2="532.25" y2="507.58" stroke="#000" stroke-width="1.7" />
<line x1="524.65" y1="497.11" x2="532.25" y2="497.11" stroke="#000" stroke-width="1.7" />
<line x1="528.45" y1="521.80" x2="528.45" y2="523.60" stroke="#000" stroke-width="0.9" />
<text x="529.45" y="526.80" font-size="4.1" fill="#222" font-weight="bold" font-family='"Liberation Sans", sans-serif' text-anchor="end" transform="rotate(-45 529.45 526.80)" >ASD+HighPM2.5</text>
<line x1="444.50" y1="442.70" x2="444.50" y2="522.80" stroke="#000" stroke-width="2.0" />
<line x1="443.50" y1="521.80" x2="543.20" y2="521.80" stroke="#000" stroke-width="2.0" />
<line x1="444.50" y1="483.00" x2="543.20" y2="483.00" stroke="#000" stroke-width="1.3" />
<line x1="442.90" y1="523.30" x2="444.50" y2="523.30" stroke="#000" stroke-width="0.8" />
<text x="442.30" y="524.80" font-size="4.3" fill="#222" font-weight="bold" font-family='"Liberation Sans", sans-serif' text-anchor="end" >-100</text>
<line x1="442.90" y1="503.15" x2="444.50" y2="503.15" stroke="#000" stroke-width="0.8" />
<text x="442.30" y="504.65" font-size="4.3" fill="#222" font-weight="bold" font-family='"Liberation Sans", sans-serif' text-anchor="end" >-50</text>
<line x1="442.90" y1="483.00" x2="444.50" y2="483.00" stroke="#000" stroke-width="0.8" />
<text x="442.30" y="484.50" font-size="4.3" fill="#222" font-weight="bold" font-family='"Liberation Sans", sans-serif' text-anchor="end" >0</text>
<line x1="442.90" y1="462.85" x2="444.50" y2="462.85" stroke="#000" stroke-width="0.8" />
<text x="442.30" y="464.35" font-size="4.3" fill="#222" font-weight="bold" font-family='"Liberation Sans", sans-serif' text-anchor="end" >50</text>
<line x1="442.90" y1="442.70" x2="444.50" y2="442.70" stroke="#000" stroke-width="0.8" />
<text x="442.30" y="444.20" font-size="4.3" fill="#222" font-weight="bold" font-family='"Liberation Sans", sans-serif' text-anchor="end" >100</text>
<line x1="461.40" y1="456.40" x2="487.80" y2="456.40" stroke="#000" stroke-width="1.7" />
<path d="M473.05 451.25 L473.05 453.75 M471.97 451.88 L474.13 453.12 M471.97 453.12 L474.13 451.88 " stroke="#000" stroke-width="0.95" stroke-linecap="round"/>
<path d="M476.15 451.25 L476.15 453.75 M475.07 451.88 L477.23 453.12 M475.07 453.12 L477.23 451.88 " stroke="#000" stroke-width="0.95" stroke-linecap="round"/>
<line x1="482.40" y1="449.50" x2="528.70" y2="449.50" stroke="#000" stroke-width="1.7" />
<path d="M504.00 444.35 L504.00 446.85 M502.92 444.98 L505.08 446.23 M502.92 446.23 L505.08 444.98 " stroke="#000" stroke-width="0.95" stroke-linecap="round"/>
<path d="M507.10 444.35 L507.10 446.85 M506.02 444.98 L508.18 446.23 M506.02 446.23 L508.18 444.98 " stroke="#000" stroke-width="0.95" stroke-linecap="round"/>
<line x1="481.80" y1="464.50" x2="508.50" y2="464.50" stroke="#000" stroke-width="1.7" />
<path d="M495.15 459.35 L495.15 461.85 M494.07 459.98 L496.23 461.23 M494.07 461.23 L496.23 459.98 " stroke="#000" stroke-width="0.95" stroke-linecap="round"/>
<line x1="505.80" y1="476.80" x2="532.80" y2="476.80" stroke="#000" stroke-width="1.7" />
<path d="M519.30 471.65 L519.30 474.15 M518.22 472.28 L520.38 473.53 M518.22 473.53 L520.38 472.28 " stroke="#000" stroke-width="0.95" stroke-linecap="round"/>
<text x="430.20" y="481.00" font-size="5.2" fill="#111" font-weight="bold" font-family='"Liberation Sans", sans-serif' text-anchor="middle" textLength="81.00" lengthAdjust="spacingAndGlyphs" transform="rotate(-90 430.20 481.00)" stroke="#111" stroke-width="0.208" stroke-linejoin="round" >Social Novelty Preference Index %</text>
<text x="10.90" y="568.90" font-size="11.4" fill="#000" font-weight="bold" font-family='"Liberation Sans", sans-serif' stroke="#000" stroke-width="0.280" stroke-linejoin="round" >H</text>
<rect x="74.30" y="668.68" width="11.90" height="57.62" fill="#8080c8" stroke="#000" stroke-width="2"/>
<circle cx="80.25" cy="648.70" r="2.20" fill="#2020a0" />
<circle cx="83.45" cy="658.40" r="2.20" fill="#2020a0" />
<circle cx="77.05" cy="666.16" r="2.20" fill="#2020a0" />
<circle cx="83.45" cy="673.92" r="2.20" fill="#2020a0" />
<circle cx="77.05" cy="679.74" r="2.20" fill="#2020a0" />
<circle cx="80.25" cy="679.74" r="2.20" fill="#2020a0" />
<line x1="80.25" y1="655.10" x2="80.25" y2="682.26" stroke="#000" stroke-width="1.6" />
<line x1="76.25" y1="655.10" x2="84.25" y2="655.10" stroke="#000" stroke-width="1.8" />
<line x1="76.25" y1="682.26" x2="84.25" y2="682.26" stroke="#000" stroke-width="1.8" />
<line x1="80.25" y1="726.30" x2="80.25" y2="729.50" stroke="#000" stroke-width="1.6" />
<text x="80.25" y="738.40" font-size="7.2" fill="#111" font-weight="bold" font-family='"Liberation Sans", sans-serif' text-anchor="middle" stroke="#111" stroke-width="0.280" stroke-linejoin="round" >F</text>
<rect x="96.40" y="623.48" width="11.80" height="102.82" fill="#8080c8" stroke="#000" stroke-width="2"/>
<circle cx="102.30" cy="610.87" r="2.20" fill="#8030b8" />
<circle cx="105.50" cy="611.84" r="2.20" fill="#8030b8" />
<circle cx="99.10" cy="617.66" r="2.20" fill="#8030b8" />
<circle cx="105.50" cy="625.42" r="2.20" fill="#8030b8" />
<circle cx="99.10" cy="629.30" r="2.20" fill="#8030b8" />
<circle cx="102.30" cy="640.94" r="2.20" fill="#8030b8" />
<line x1="102.30" y1="610.87" x2="102.30" y2="636.09" stroke="#000" stroke-width="1.6" />
<line x1="98.30" y1="610.87" x2="106.30" y2="610.87" stroke="#000" stroke-width="1.8" />
<line x1="98.30" y1="636.09" x2="106.30" y2="636.09" stroke="#000" stroke-width="1.8" />
<line x1="102.30" y1="726.30" x2="102.30" y2="729.50" stroke="#000" stroke-width="1.6" />
<text x="102.30" y="738.40" font-size="7.2" fill="#111" font-weight="bold" font-family='"Liberation Sans", sans-serif' text-anchor="middle" stroke="#111" stroke-width="0.280" stroke-linejoin="round" >N</text>
<rect x="118.00" y="663.64" width="12.00" height="62.66" fill="#c080dc" stroke="#000" stroke-width="2"/>
<circle cx="124.00" cy="652.58" r="2.20" fill="#d03aa0" />
<circle cx="127.20" cy="658.40" r="2.20" fill="#d03aa0" />
<circle cx="120.80" cy="662.28" r="2.20" fill="#d03aa0" />
<circle cx="127.20" cy="666.16" r="2.20" fill="#d03aa0" />
<circle cx="120.80" cy="670.04" r="2.20" fill="#d03aa0" />
<circle cx="124.00" cy="671.98" r="2.20" fill="#d03aa0" />
<line x1="124.00" y1="653.94" x2="124.00" y2="673.34" stroke="#000" stroke-width="1.6" />
<line x1="120.00" y1="653.94" x2="128.00" y2="653.94" stroke="#000" stroke-width="1.8" />
<line x1="120.00" y1="673.34" x2="128.00" y2="673.34" stroke="#000" stroke-width="1.8" />
<line x1="124.00" y1="726.30" x2="124.00" y2="729.50" stroke="#000" stroke-width="1.6" />
<text x="124.00" y="738.40" font-size="7.2" fill="#111" font-weight="bold" font-family='"Liberation Sans", sans-serif' text-anchor="middle" stroke="#111" stroke-width="0.280" stroke-linejoin="round" >F</text>
<rect x="140.00" y="655.88" width="12.00" height="70.42" fill="#c080dc" stroke="#000" stroke-width="2"/>
<circle cx="146.00" cy="644.82" r="2.20" fill="#f05a6a" />
<circle cx="149.20" cy="648.70" r="2.20" fill="#f05a6a" />
<circle cx="142.80" cy="652.58" r="2.20" fill="#f05a6a" />
<circle cx="149.20" cy="660.34" r="2.20" fill="#f05a6a" />
<circle cx="142.80" cy="664.22" r="2.20" fill="#f05a6a" />
<circle cx="146.00" cy="668.10" r="2.20" fill="#f05a6a" />
<line x1="146.00" y1="645.21" x2="146.00" y2="666.55" stroke="#000" stroke-width="1.6" />
<line x1="142.00" y1="645.21" x2="150.00" y2="645.21" stroke="#000" stroke-width="1.8" />
<line x1="142.00" y1="666.55" x2="150.00" y2="666.55" stroke="#000" stroke-width="1.8" />
<line x1="146.00" y1="726.30" x2="146.00" y2="729.50" stroke="#000" stroke-width="1.6" />
<text x="146.00" y="738.40" font-size="7.2" fill="#111" font-weight="bold" font-family='"Liberation Sans", sans-serif' text-anchor="middle" stroke="#111" stroke-width="0.280" stroke-linejoin="round" >N</text>
<rect x="161.70" y="661.89" width="12.00" height="64.41" fill="#e890cc" stroke="#000" stroke-width="2"/>
<circle cx="167.70" cy="650.64" r="2.20" fill="#2020a0" />
<circle cx="170.90" cy="656.46" r="2.20" fill="#2020a0" />
<circle cx="164.50" cy="660.34" r="2.20" fill="#2020a0" />
<circle cx="170.90" cy="664.22" r="2.20" fill="#2020a0" />
<circle cx="164.50" cy="668.10" r="2.20" fill="#2020a0" />
<circle cx="167.70" cy="671.98" r="2.20" fill="#2020a0" />
<line x1="167.70" y1="653.16" x2="167.70" y2="670.62" stroke="#000" stroke-width="1.6" />
<line x1="163.70" y1="653.16" x2="171.70" y2="653.16" stroke="#000" stroke-width="1.8" />
<line x1="163.70" y1="670.62" x2="171.70" y2="670.62" stroke="#000" stroke-width="1.8" />
<line x1="167.70" y1="726.30" x2="167.70" y2="729.50" stroke="#000" stroke-width="1.6" />
<text x="167.70" y="738.40" font-size="7.2" fill="#111" font-weight="bold" font-family='"Liberation Sans", sans-serif' text-anchor="middle" stroke="#111" stroke-width="0.280" stroke-linejoin="round" >F</text>
<rect x="183.30" y="670.82" width="12.00" height="55.48" fill="#e890cc" stroke="#000" stroke-width="2"/>
<circle cx="189.30" cy="656.46" r="2.20" fill="#8a30c8" />
<circle cx="192.50" cy="666.16" r="2.20" fill="#8a30c8" />
<circle cx="186.10" cy="670.04" r="2.20" fill="#8a30c8" />
<circle cx="192.50" cy="673.92" r="2.20" fill="#8a30c8" />
<circle cx="186.10" cy="675.86" r="2.20" fill="#8a30c8" />
<circle cx="189.30" cy="677.80" r="2.20" fill="#8a30c8" />
<line x1="189.30" y1="664.03" x2="189.30" y2="677.61" stroke="#000" stroke-width="1.6" />
<line x1="185.30" y1="664.03" x2="193.30" y2="664.03" stroke="#000" stroke-width="1.8" />
<line x1="185.30" y1="677.61" x2="193.30" y2="677.61" stroke="#000" stroke-width="1.8" />
<line x1="189.30" y1="726.30" x2="189.30" y2="729.50" stroke="#000" stroke-width="1.6" />
<text x="189.30" y="738.40" font-size="7.2" fill="#111" font-weight="bold" font-family='"Liberation Sans", sans-serif' text-anchor="middle" stroke="#111" stroke-width="0.280" stroke-linejoin="round" >N</text>
<rect x="205.70" y="657.62" width="12.00" height="68.68" fill="#f8a8a8" stroke="#000" stroke-width="2"/>
<circle cx="211.70" cy="650.64" r="2.20" fill="#d040a0" />
<circle cx="214.90" cy="654.52" r="2.20" fill="#d040a0" />
<circle cx="208.50" cy="656.46" r="2.20" fill="#d040a0" />
<circle cx="214.90" cy="658.40" r="2.20" fill="#d040a0" />
<circle cx="208.50" cy="664.22" r="2.20" fill="#d040a0" />
<circle cx="211.70" cy="668.10" r="2.20" fill="#d040a0" />
<line x1="211.70" y1="650.83" x2="211.70" y2="664.41" stroke="#000" stroke-width="1.6" />
<line x1="207.70" y1="650.83" x2="215.70" y2="650.83" stroke="#000" stroke-width="1.8" />
<line x1="207.70" y1="664.41" x2="215.70" y2="664.41" stroke="#000" stroke-width="1.8" />
<line x1="211.70" y1="726.30" x2="211.70" y2="729.50" stroke="#000" stroke-width="1.6" />
<text x="211.70" y="738.40" font-size="7.2" fill="#111" font-weight="bold" font-family='"Liberation Sans", sans-serif' text-anchor="middle" stroke="#111" stroke-width="0.280" stroke-linejoin="round" >F</text>
<rect x="227.40" y="671.20" width="11.90" height="55.10" fill="#f8a8a8" stroke="#000" stroke-width="2"/>
<circle cx="233.35" cy="652.58" r="2.20" fill="#f06050" />
<circle cx="236.55" cy="654.52" r="2.20" fill="#f06050" />
<circle cx="230.15" cy="673.92" r="2.20" fill="#f06050" />
<circle cx="236.55" cy="679.74" r="2.20" fill="#f06050" />
<circle cx="230.15" cy="681.68" r="2.20" fill="#f06050" />
<circle cx="233.35" cy="683.62" r="2.20" fill="#f06050" />
<line x1="233.35" y1="658.59" x2="233.35" y2="683.81" stroke="#000" stroke-width="1.6" />
<line x1="229.35" y1="658.59" x2="237.35" y2="658.59" stroke="#000" stroke-width="1.8" />
<line x1="229.35" y1="683.81" x2="237.35" y2="683.81" stroke="#000" stroke-width="1.8" />
<line x1="233.35" y1="726.30" x2="233.35" y2="729.50" stroke="#000" stroke-width="1.6" />
<text x="233.35" y="738.40" font-size="7.2" fill="#111" font-weight="bold" font-family='"Liberation Sans", sans-serif' text-anchor="middle" stroke="#111" stroke-width="0.280" stroke-linejoin="round" >N</text>
<line x1="65.80" y1="571.00" x2="65.80" y2="727.20" stroke="#000" stroke-width="1.9" />
<line x1="64.90" y1="726.30" x2="248.50" y2="726.30" stroke="#000" stroke-width="1.9" />
<line x1="61.20" y1="726.30" x2="65.80" y2="726.30" stroke="#000" stroke-width="1.6" />
<text x="59.50" y="729.30" font-size="9.0" fill="#111" font-weight="bold" font-family='"Liberation Sans", sans-serif' text-anchor="end" textLength="4.40" lengthAdjust="spacingAndGlyphs" stroke="#111" stroke-width="0.280" stroke-linejoin="round" >0</text>
<line x1="61.20" y1="687.50" x2="65.80" y2="687.50" stroke="#000" stroke-width="1.6" />
<text x="59.50" y="690.50" font-size="9.0" fill="#111" font-weight="bold" font-family='"Liberation Sans", sans-serif' text-anchor="end" textLength="8.80" lengthAdjust="spacingAndGlyphs" stroke="#111" stroke-width="0.280" stroke-linejoin="round" >20</text>
<line x1="61.20" y1="648.70" x2="65.80" y2="648.70" stroke="#000" stroke-width="1.6" />
<text x="59.50" y="651.70" font-size="9.0" fill="#111" font-weight="bold" font-family='"Liberation Sans", sans-serif' text-anchor="end" textLength="8.80" lengthAdjust="spacingAndGlyphs" stroke="#111" stroke-width="0.280" stroke-linejoin="round" >40</text>
<line x1="61.20" y1="609.90" x2="65.80" y2="609.90" stroke="#000" stroke-width="1.6" />
<text x="59.50" y="612.90" font-size="9.0" fill="#111" font-weight="bold" font-family='"Liberation Sans", sans-serif' text-anchor="end" textLength="8.80" lengthAdjust="spacingAndGlyphs" stroke="#111" stroke-width="0.280" stroke-linejoin="round" >60</text>
<line x1="61.20" y1="571.10" x2="65.80" y2="571.10" stroke="#000" stroke-width="1.6" />
<text x="59.50" y="574.10" font-size="9.0" fill="#111" font-weight="bold" font-family='"Liberation Sans", sans-serif' text-anchor="end" textLength="8.80" lengthAdjust="spacingAndGlyphs" stroke="#111" stroke-width="0.280" stroke-linejoin="round" >80</text>
<text x="44.90" y="650.80" font-size="14.2" fill="#111" font-weight="bold" font-family='"Liberation Sans", sans-serif' text-anchor="middle" textLength="130.40" lengthAdjust="spacingAndGlyphs" transform="rotate(-90 44.90 650.80)" stroke="#111" stroke-width="0.280" stroke-linejoin="round" >Exploration time (s)</text>
<line x1="80.10" y1="590.90" x2="107.70" y2="590.90" stroke="#000" stroke-width="1.9" />
<path d="M90.90 581.20 L90.90 585.80 M88.91 582.35 L92.89 584.65 M88.91 584.65 L92.89 582.35 " stroke="#111" stroke-width="1.5" stroke-linecap="butt"/>
<path d="M97.00 581.20 L97.00 585.80 M95.01 582.35 L98.99 584.65 M95.01 584.65 L98.99 582.35 " stroke="#111" stroke-width="1.5" stroke-linecap="butt"/>
<line x1="121.50" y1="635.10" x2="149.20" y2="635.10" stroke="#000" stroke-width="1.9" />
<text x="135.40" y="630.40" font-size="9.2" fill="#1a1a1a" font-weight="normal" font-family='"Liberation Sans", sans-serif' text-anchor="middle" textLength="15.40" lengthAdjust="spacingAndGlyphs" >N.S</text>
<line x1="165.80" y1="642.00" x2="193.30" y2="642.00" stroke="#000" stroke-width="1.9" />
<text x="179.40" y="636.60" font-size="9.2" fill="#1a1a1a" font-weight="normal" font-family='"Liberation Sans", sans-serif' text-anchor="middle" textLength="15.40" lengthAdjust="spacingAndGlyphs" >N.S</text>
<line x1="211.00" y1="640.00" x2="238.30" y2="640.00" stroke="#000" stroke-width="1.9" />
<text x="225.00" y="635.60" font-size="9.2" fill="#1a1a1a" font-weight="normal" font-family='"Liberation Sans", sans-serif' text-anchor="middle" textLength="15.40" lengthAdjust="spacingAndGlyphs" >N.S</text>
<rect x="146.70" y="569.60" width="20.30" height="5.20" fill="#8080c8" />
<text x="169.60" y="574.70" font-size="7.4" fill="#111" font-weight="bold" font-family='"Liberation Sans", sans-serif' textLength="22.20" lengthAdjust="spacingAndGlyphs" stroke="#111" stroke-width="0.280" stroke-linejoin="round" >Control</text>
<rect x="146.70" y="578.45" width="20.30" height="5.20" fill="#c080dc" />
<text x="169.60" y="583.55" font-size="7.4" fill="#111" font-weight="bold" font-family='"Liberation Sans", sans-serif' textLength="13.00" lengthAdjust="spacingAndGlyphs" stroke="#111" stroke-width="0.280" stroke-linejoin="round" >ASD</text>
<rect x="146.70" y="587.30" width="20.30" height="5.20" fill="#e890cc" />
<text x="169.60" y="592.40" font-size="7.4" fill="#111" font-weight="bold" font-family='"Liberation Sans", sans-serif' textLength="49.50" lengthAdjust="spacingAndGlyphs" stroke="#111" stroke-width="0.280" stroke-linejoin="round" >ASD+Low PM2.5</text>
<rect x="146.70" y="596.15" width="20.30" height="5.20" fill="#f8a8a8" />
<text x="169.60" y="601.25" font-size="7.4" fill="#111" font-weight="bold" font-family='"Liberation Sans", sans-serif' textLength="50.90" lengthAdjust="spacingAndGlyphs" stroke="#111" stroke-width="0.280" stroke-linejoin="round" >ASD+High PM2.5</text>
<text x="274.40" y="572.20" font-size="9.6" fill="#000" font-weight="bold" font-family='"Liberation Serif", serif' stroke="#000" stroke-width="0.280" stroke-linejoin="round" >I</text>
<line x1="333.20" y1="572.20" x2="333.20" y2="719.90" stroke="#000" stroke-width="1.9" />
<line x1="332.30" y1="719.00" x2="507.40" y2="719.00" stroke="#000" stroke-width="1.9" />
<line x1="328.60" y1="719.20" x2="333.20" y2="719.20" stroke="#000" stroke-width="1.6" />
<text x="327.20" y="722.20" font-size="9.2" fill="#111" font-weight="bold" font-family='"Liberation Sans", sans-serif' text-anchor="end" textLength="9.60" lengthAdjust="spacingAndGlyphs" stroke="#111" stroke-width="0.280" stroke-linejoin="round" >-20</text>
<line x1="328.60" y1="682.60" x2="333.20" y2="682.60" stroke="#000" stroke-width="1.6" />
<text x="327.20" y="685.60" font-size="9.2" fill="#111" font-weight="bold" font-family='"Liberation Sans", sans-serif' text-anchor="end" textLength="4.40" lengthAdjust="spacingAndGlyphs" stroke="#111" stroke-width="0.280" stroke-linejoin="round" >0</text>
<line x1="328.60" y1="646.00" x2="333.20" y2="646.00" stroke="#000" stroke-width="1.6" />
<text x="327.20" y="649.00" font-size="9.2" fill="#111" font-weight="bold" font-family='"Liberation Sans", sans-serif' text-anchor="end" textLength="8.40" lengthAdjust="spacingAndGlyphs" stroke="#111" stroke-width="0.280" stroke-linejoin="round" >20</text>
<line x1="328.60" y1="609.40" x2="333.20" y2="609.40" stroke="#000" stroke-width="1.6" />
<text x="327.20" y="612.40" font-size="9.2" fill="#111" font-weight="bold" font-family='"Liberation Sans", sans-serif' text-anchor="end" textLength="8.40" lengthAdjust="spacingAndGlyphs" stroke="#111" stroke-width="0.280" stroke-linejoin="round" >40</text>
<line x1="328.60" y1="572.80" x2="333.20" y2="572.80" stroke="#000" stroke-width="1.6" />
<text x="327.20" y="575.80" font-size="9.2" fill="#111" font-weight="bold" font-family='"Liberation Sans", sans-serif' text-anchor="end" textLength="8.40" lengthAdjust="spacingAndGlyphs" stroke="#111" stroke-width="0.280" stroke-linejoin="round" >60</text>
<line x1="333.20" y1="682.60" x2="507.40" y2="682.60" stroke="#000" stroke-width="0.9" stroke-dasharray="1.6 1.6"/>
<text x="310.30" y="644.80" font-size="16.6" fill="#111" font-weight="bold" font-family='"Liberation Serif", serif' text-anchor="middle" textLength="156.00" lengthAdjust="spacingAndGlyphs" transform="rotate(-90 310.30 644.80)" stroke="#111" stroke-width="0.280" stroke-linejoin="round" >Discrimination rate (%)</text>
<rect x="347.00" y="619.47" width="26.00" height="19.22" fill="#8080c8" stroke="#000" stroke-width="2.1"/>
<line x1="347.00" y1="629.53" x2="373.00" y2="629.53" stroke="#000" stroke-width="1.8" />
<line x1="360.00" y1="619.47" x2="360.00" y2="611.23" stroke="#000" stroke-width="1.6" />
<line x1="360.00" y1="638.68" x2="360.00" y2="647.83" stroke="#000" stroke-width="1.6" />
<line x1="354.00" y1="611.23" x2="366.00" y2="611.23" stroke="#000" stroke-width="1.6" />
<line x1="354.00" y1="647.83" x2="366.00" y2="647.83" stroke="#000" stroke-width="1.6" />
<circle cx="360.00" cy="611.23" r="2.00" fill="#1a1aa0" />
<circle cx="360.00" cy="622.21" r="2.00" fill="#1a1aa0" />
<circle cx="360.00" cy="625.87" r="2.00" fill="#1a1aa0" />
<circle cx="357.00" cy="635.94" r="2.00" fill="#1a1aa0" />
<circle cx="363.00" cy="636.85" r="2.00" fill="#1a1aa0" />
<circle cx="360.00" cy="647.83" r="2.00" fill="#1a1aa0" />
<line x1="360.00" y1="719.00" x2="360.00" y2="722.00" stroke="#000" stroke-width="1.6" />
<rect x="387.00" y="668.88" width="26.00" height="4.58" fill="#c080dc" stroke="#000" stroke-width="2.1"/>
<line x1="387.00" y1="671.62" x2="413.00" y2="671.62" stroke="#000" stroke-width="1.8" />
<line x1="400.00" y1="668.88" x2="400.00" y2="665.22" stroke="#000" stroke-width="1.6" />
<line x1="400.00" y1="673.45" x2="400.00" y2="676.20" stroke="#000" stroke-width="1.6" />
<line x1="394.00" y1="665.22" x2="406.00" y2="665.22" stroke="#000" stroke-width="1.6" />
<line x1="394.00" y1="676.20" x2="406.00" y2="676.20" stroke="#000" stroke-width="1.6" />
<circle cx="397.00" cy="669.79" r="2.00" fill="#8a20c0" />
<circle cx="400.00" cy="666.13" r="2.00" fill="#8a20c0" />
<circle cx="403.00" cy="669.79" r="2.00" fill="#8a20c0" />
<circle cx="397.00" cy="673.45" r="2.00" fill="#8a20c0" />
<circle cx="400.00" cy="675.28" r="2.00" fill="#8a20c0" />
<circle cx="403.00" cy="671.62" r="2.00" fill="#8a20c0" />
<line x1="400.00" y1="719.00" x2="400.00" y2="722.00" stroke="#000" stroke-width="1.6" />
<rect x="427.00" y="680.40" width="26.00" height="10.61" fill="#e890cc" stroke="#000" stroke-width="2.1"/>
<line x1="427.00" y1="685.53" x2="453.00" y2="685.53" stroke="#000" stroke-width="1.8" />
<line x1="440.00" y1="680.40" x2="440.00" y2="679.31" stroke="#000" stroke-width="1.6" />
<line x1="440.00" y1="691.02" x2="440.00" y2="698.70" stroke="#000" stroke-width="1.6" />
<line x1="434.00" y1="679.31" x2="446.00" y2="679.31" stroke="#000" stroke-width="1.6" />
<line x1="434.00" y1="698.70" x2="446.00" y2="698.70" stroke="#000" stroke-width="1.6" />
<circle cx="437.00" cy="680.77" r="2.00" fill="#d02c9c" />
<circle cx="443.00" cy="680.77" r="2.00" fill="#d02c9c" />
<circle cx="440.00" cy="686.26" r="2.00" fill="#d02c9c" />
<circle cx="437.00" cy="689.92" r="2.00" fill="#d02c9c" />
<circle cx="443.00" cy="688.09" r="2.00" fill="#d02c9c" />
<circle cx="440.00" cy="698.15" r="2.00" fill="#d02c9c" />
<line x1="440.00" y1="719.00" x2="440.00" y2="722.00" stroke="#000" stroke-width="1.6" />
<rect x="467.00" y="691.38" width="26.00" height="19.95" fill="#f8a8a8" stroke="#000" stroke-width="2.1"/>
<line x1="467.00" y1="707.85" x2="493.00" y2="707.85" stroke="#000" stroke-width="1.8" />
<line x1="480.00" y1="691.38" x2="480.00" y2="686.26" stroke="#000" stroke-width="1.6" />
<line x1="480.00" y1="711.33" x2="480.00" y2="716.82" stroke="#000" stroke-width="1.6" />
<line x1="474.00" y1="686.26" x2="486.00" y2="686.26" stroke="#000" stroke-width="1.6" />
<line x1="474.00" y1="716.82" x2="486.00" y2="716.82" stroke="#000" stroke-width="1.6" />
<circle cx="480.00" cy="686.26" r="2.00" fill="#f06060" />
<circle cx="477.00" cy="695.41" r="2.00" fill="#f06060" />
<circle cx="483.00" cy="699.07" r="2.00" fill="#f06060" />
<circle cx="480.00" cy="704.56" r="2.00" fill="#f06060" />
<circle cx="477.00" cy="710.05" r="2.00" fill="#f06060" />
<circle cx="480.00" cy="716.46" r="2.00" fill="#f06060" />
<line x1="480.00" y1="719.00" x2="480.00" y2="722.00" stroke="#000" stroke-width="1.6" />
<text x="358.50" y="731.20" font-size="8.9" fill="#111" font-weight="bold" font-family='"Liberation Sans", sans-serif' text-anchor="middle" textLength="14.00" lengthAdjust="spacingAndGlyphs" stroke="#111" stroke-width="0.280" stroke-linejoin="round" >Con</text>
<text x="400.40" y="731.20" font-size="8.9" fill="#111" font-weight="bold" font-family='"Liberation Sans", sans-serif' text-anchor="middle" textLength="16.00" lengthAdjust="spacingAndGlyphs" stroke="#111" stroke-width="0.280" stroke-linejoin="round" >ASD</text>
<text x="440.30" y="731.20" font-size="8.9" fill="#111" font-weight="bold" font-family='"Liberation Sans", sans-serif' text-anchor="middle" textLength="15.00" lengthAdjust="spacingAndGlyphs" stroke="#111" stroke-width="0.280" stroke-linejoin="round" >Low</text>
<text x="481.00" y="731.20" font-size="8.9" fill="#111" font-weight="bold" font-family='"Liberation Sans", sans-serif' text-anchor="middle" textLength="16.50" lengthAdjust="spacingAndGlyphs" stroke="#111" stroke-width="0.280" stroke-linejoin="round" >High</text>
<line x1="356.60" y1="581.60" x2="392.30" y2="581.60" stroke="#000" stroke-width="1.9" />
<path d="M372.30 572.40 L372.30 576.80 M370.39 573.50 L374.21 575.70 M370.39 575.70 L374.21 573.50 " stroke="#111" stroke-width="1.4" stroke-linecap="butt"/>
<path d="M378.00 572.40 L378.00 576.80 M376.09 573.50 L379.91 575.70 M376.09 575.70 L379.91 573.50 " stroke="#111" stroke-width="1.4" stroke-linecap="butt"/>
<line x1="400.00" y1="639.80" x2="487.60" y2="639.80" stroke="#000" stroke-width="1.9" />
<path d="M437.40 631.20 L437.40 635.60 M435.49 632.30 L439.31 634.50 M435.49 634.50 L439.31 632.30 " stroke="#111" stroke-width="1.4" stroke-linecap="butt"/>
<path d="M443.10 631.20 L443.10 635.60 M441.19 632.30 L445.01 634.50 M441.19 634.50 L445.01 632.30 " stroke="#111" stroke-width="1.4" stroke-linecap="butt"/>
<line x1="400.00" y1="654.90" x2="437.20" y2="654.90" stroke="#000" stroke-width="1.9" />
<path d="M419.30 646.60 L419.30 651.00 M417.39 647.70 L421.21 649.90 M417.39 649.90 L421.21 647.70 " stroke="#111" stroke-width="1.4" stroke-linecap="butt"/>
<line x1="444.00" y1="672.80" x2="480.50" y2="672.80" stroke="#000" stroke-width="1.9" />
<path d="M461.90 664.30 L461.90 668.70 M459.99 665.40 L463.81 667.60 M459.99 667.60 L463.81 665.40 " stroke="#111" stroke-width="1.4" stroke-linecap="butt"/>
<rect x="437.20" y="574.40" width="20.10" height="5.20" fill="#8080c8" />
<text x="459.80" y="579.50" font-size="7.4" fill="#111" font-weight="bold" font-family='"Liberation Sans", sans-serif' textLength="22.00" lengthAdjust="spacingAndGlyphs" stroke="#111" stroke-width="0.280" stroke-linejoin="round" >Control</text>
<rect x="437.20" y="583.17" width="20.10" height="5.20" fill="#c080dc" />
<text x="459.80" y="588.27" font-size="7.4" fill="#111" font-weight="bold" font-family='"Liberation Sans", sans-serif' textLength="12.80" lengthAdjust="spacingAndGlyphs" stroke="#111" stroke-width="0.280" stroke-linejoin="round" >ASD</text>
<rect x="437.20" y="591.94" width="20.10" height="5.20" fill="#e890cc" />
<text x="459.80" y="597.04" font-size="7.4" fill="#111" font-weight="bold" font-family='"Liberation Sans", sans-serif' textLength="49.00" lengthAdjust="spacingAndGlyphs" stroke="#111" stroke-width="0.280" stroke-linejoin="round" >ASD+Low PM2.5</text>
<rect x="437.20" y="600.71" width="20.10" height="5.20" fill="#f8a8a8" />
<text x="459.80" y="605.81" font-size="7.4" fill="#111" font-weight="bold" font-family='"Liberation Sans", sans-serif' textLength="51.00" lengthAdjust="spacingAndGlyphs" stroke="#111" stroke-width="0.280" stroke-linejoin="round" >ASD+High PM2.5</text>
</svg>
</body></html>
